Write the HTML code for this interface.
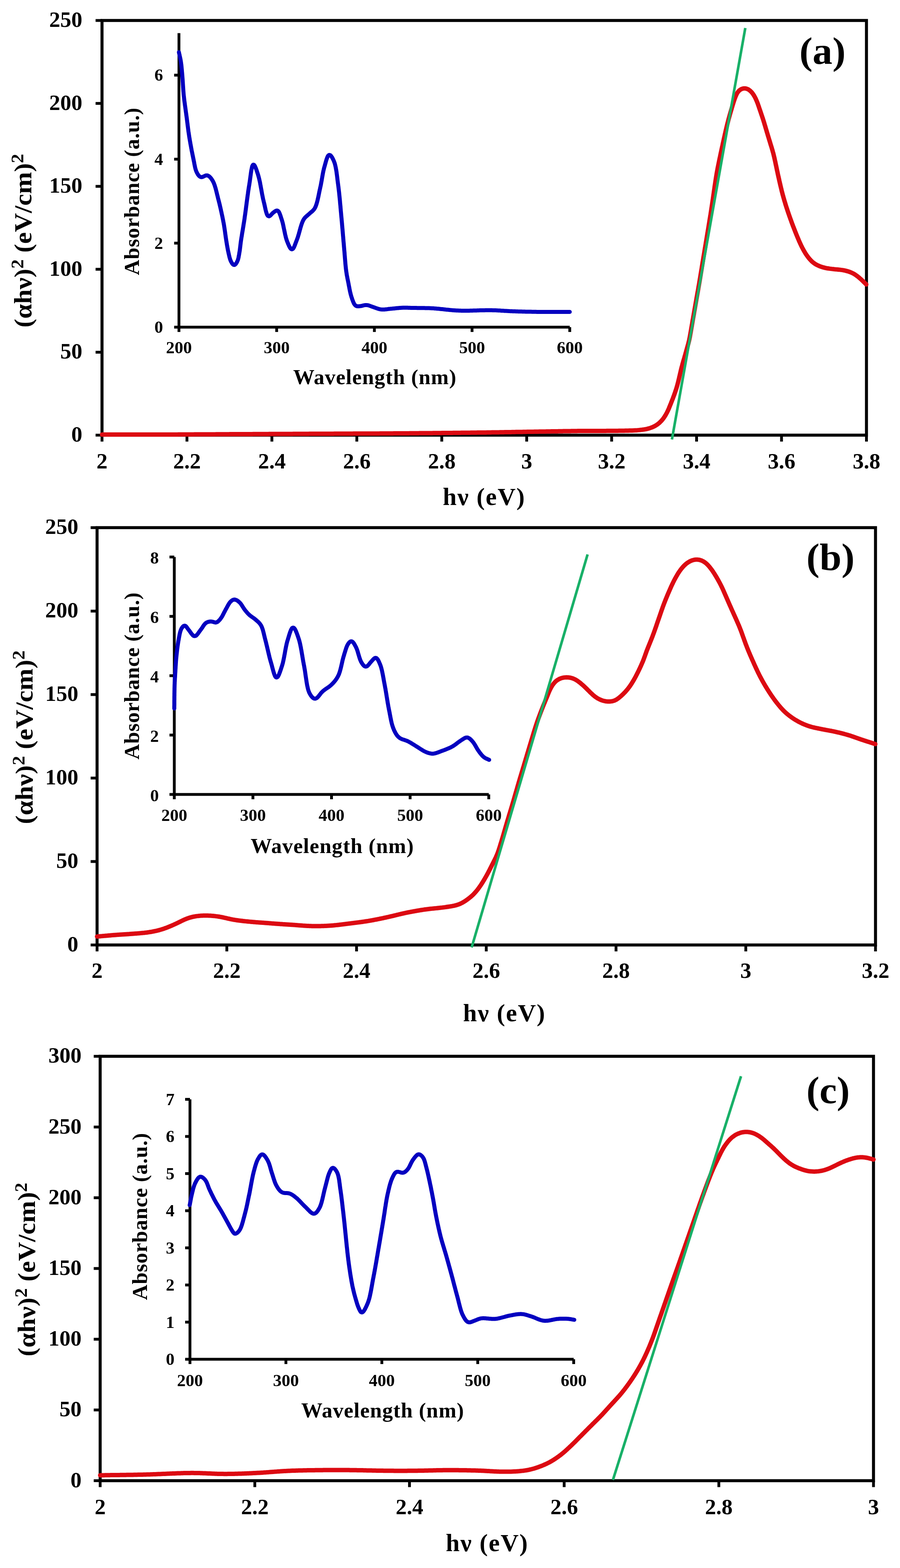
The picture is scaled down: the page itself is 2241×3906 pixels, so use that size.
<!DOCTYPE html>
<html><head><meta charset="utf-8"><title>Tauc plots</title>
<style>
html,body{margin:0;padding:0;background:#fff;}
body{width:2241px;height:3906px;overflow:hidden;}
svg{display:block;}
text{font-family:'Liberation Serif', serif;font-weight:bold;}
</style></head><body>
<svg width="2241" height="3906" viewBox="0 0 2241 3906" font-family="'Liberation Serif', serif" font-weight="bold" fill="#000">
<rect width="2241" height="3906" fill="#fff"/>
<rect x="254" y="51" width="1903.5" height="1033" fill="none" stroke="#000" stroke-width="7.5"/>
<line x1="238" y1="1084" x2="254" y2="1084" stroke="#000" stroke-width="7" stroke-linecap="butt"/>
<text x="205" y="1100" font-size="55" text-anchor="end">0</text>
<line x1="238" y1="877.4" x2="254" y2="877.4" stroke="#000" stroke-width="7" stroke-linecap="butt"/>
<text x="205" y="893.4" font-size="55" text-anchor="end">50</text>
<line x1="238" y1="670.8" x2="254" y2="670.8" stroke="#000" stroke-width="7" stroke-linecap="butt"/>
<text x="205" y="686.8" font-size="55" text-anchor="end">100</text>
<line x1="238" y1="464.2" x2="254" y2="464.2" stroke="#000" stroke-width="7" stroke-linecap="butt"/>
<text x="205" y="480.2" font-size="55" text-anchor="end">150</text>
<line x1="238" y1="257.6" x2="254" y2="257.6" stroke="#000" stroke-width="7" stroke-linecap="butt"/>
<text x="205" y="273.6" font-size="55" text-anchor="end">200</text>
<line x1="238" y1="51" x2="254" y2="51" stroke="#000" stroke-width="7" stroke-linecap="butt"/>
<text x="205" y="67" font-size="55" text-anchor="end">250</text>
<line x1="254" y1="1084" x2="254" y2="1100" stroke="#000" stroke-width="7" stroke-linecap="butt"/>
<text x="254" y="1167" font-size="55" text-anchor="middle">2</text>
<line x1="465.5" y1="1084" x2="465.5" y2="1100" stroke="#000" stroke-width="7" stroke-linecap="butt"/>
<text x="465.5" y="1167" font-size="55" text-anchor="middle">2.2</text>
<line x1="677" y1="1084" x2="677" y2="1100" stroke="#000" stroke-width="7" stroke-linecap="butt"/>
<text x="677" y="1167" font-size="55" text-anchor="middle">2.4</text>
<line x1="888.5" y1="1084" x2="888.5" y2="1100" stroke="#000" stroke-width="7" stroke-linecap="butt"/>
<text x="888.5" y="1167" font-size="55" text-anchor="middle">2.6</text>
<line x1="1100" y1="1084" x2="1100" y2="1100" stroke="#000" stroke-width="7" stroke-linecap="butt"/>
<text x="1100" y="1167" font-size="55" text-anchor="middle">2.8</text>
<line x1="1311.5" y1="1084" x2="1311.5" y2="1100" stroke="#000" stroke-width="7" stroke-linecap="butt"/>
<text x="1311.5" y="1167" font-size="55" text-anchor="middle">3</text>
<line x1="1523" y1="1084" x2="1523" y2="1100" stroke="#000" stroke-width="7" stroke-linecap="butt"/>
<text x="1523" y="1167" font-size="55" text-anchor="middle">3.2</text>
<line x1="1734.5" y1="1084" x2="1734.5" y2="1100" stroke="#000" stroke-width="7" stroke-linecap="butt"/>
<text x="1734.5" y="1167" font-size="55" text-anchor="middle">3.4</text>
<line x1="1946" y1="1084" x2="1946" y2="1100" stroke="#000" stroke-width="7" stroke-linecap="butt"/>
<text x="1946" y="1167" font-size="55" text-anchor="middle">3.6</text>
<line x1="2157.5" y1="1084" x2="2157.5" y2="1100" stroke="#000" stroke-width="7" stroke-linecap="butt"/>
<text x="2157.5" y="1167" font-size="55" text-anchor="middle">3.8</text>
<text x="1204.5" y="1258" font-size="62" text-anchor="middle" textLength="204" lengthAdjust="spacing">h&#957; (eV)</text>
<text transform="translate(78,599.5) rotate(-90)" x="0" y="0" font-size="62" text-anchor="middle" textLength="433" lengthAdjust="spacingAndGlyphs">(&#945;h&#957;)<tspan font-size="44" dy="-20">2</tspan><tspan dy="20" font-size="62"> (eV/cm)</tspan><tspan font-size="44" dy="-20">2</tspan></text>
<text x="2048" y="159" font-size="96" text-anchor="middle" textLength="115" lengthAdjust="spacingAndGlyphs">(a)</text>
<path d="M445.6,82.6 L445.6,815 L1418.7,815" fill="none" stroke="#000" stroke-width="7" stroke-linejoin="miter"/>
<line x1="433.6" y1="815" x2="445.6" y2="815" stroke="#000" stroke-width="7" stroke-linecap="butt"/>
<text x="406" y="829" font-size="43" text-anchor="end">0</text>
<line x1="433.6" y1="605.7" x2="445.6" y2="605.7" stroke="#000" stroke-width="7" stroke-linecap="butt"/>
<text x="406" y="619.7" font-size="43" text-anchor="end">2</text>
<line x1="433.6" y1="396.5" x2="445.6" y2="396.5" stroke="#000" stroke-width="7" stroke-linecap="butt"/>
<text x="406" y="410.5" font-size="43" text-anchor="end">4</text>
<line x1="433.6" y1="187.2" x2="445.6" y2="187.2" stroke="#000" stroke-width="7" stroke-linecap="butt"/>
<text x="406" y="201.2" font-size="43" text-anchor="end">6</text>
<line x1="445.6" y1="815" x2="445.6" y2="827" stroke="#000" stroke-width="7" stroke-linecap="butt"/>
<text x="445.6" y="880" font-size="43" text-anchor="middle">200</text>
<line x1="688.9" y1="815" x2="688.9" y2="827" stroke="#000" stroke-width="7" stroke-linecap="butt"/>
<text x="688.9" y="880" font-size="43" text-anchor="middle">300</text>
<line x1="932.2" y1="815" x2="932.2" y2="827" stroke="#000" stroke-width="7" stroke-linecap="butt"/>
<text x="932.2" y="880" font-size="43" text-anchor="middle">400</text>
<line x1="1175.4" y1="815" x2="1175.4" y2="827" stroke="#000" stroke-width="7" stroke-linecap="butt"/>
<text x="1175.4" y="880" font-size="43" text-anchor="middle">500</text>
<line x1="1418.7" y1="815" x2="1418.7" y2="827" stroke="#000" stroke-width="7" stroke-linecap="butt"/>
<text x="1418.7" y="880" font-size="43" text-anchor="middle">600</text>
<text x="933" y="957" font-size="53" text-anchor="middle" textLength="406" lengthAdjust="spacing">Wavelength (nm)</text>
<text transform="translate(346,477) rotate(-90)" x="0" y="0" font-size="53" text-anchor="middle" textLength="417" lengthAdjust="spacing">Absorbance (a.u.)</text>
<path d="M445.5,130 L445.9,132 L446.3,133.9 L446.8,135.9 L447.2,137.8 L447.6,139.8 L448.1,141.7 L448.5,143.7 L448.9,145.6 L449.3,147.6 L449.7,149.6 L450,151.5 L450.3,153.5 L450.7,155.5 L450.9,157.5 L451.2,159.5 L451.5,161.4 L451.7,163.4 L451.9,165.4 L452.1,167.4 L452.3,169.4 L452.5,171.4 L452.7,173.4 L452.9,175.4 L453,177.4 L453.2,179.4 L453.4,181.4 L453.5,183.4 L453.7,185.4 L453.9,187.4 L454,189.3 L454.2,191.3 L454.3,193.3 L454.5,195.3 L454.6,197.3 L454.8,199.3 L454.9,201.3 L455,203.3 L455.2,205.3 L455.3,207.3 L455.4,209.3 L455.5,211.3 L455.7,213.3 L455.8,215.3 L455.9,217.3 L456.1,219.3 L456.2,221.3 L456.3,223.3 L456.5,225.3 L456.6,227.3 L456.8,229.3 L457,231.3 L457.1,233.3 L457.3,235.3 L457.5,237.2 L457.7,239.2 L458,241.2 L458.2,243.2 L458.4,245.2 L458.6,247.2 L458.9,249.2 L459.1,251.2 L459.4,253.2 L459.6,255.1 L459.9,257.1 L460.2,259.1 L460.4,261.1 L460.7,263.1 L461,265.1 L461.3,267 L461.5,269 L461.8,271 L462.1,273 L462.4,275 L462.6,276.9 L462.9,278.9 L463.2,280.9 L463.5,282.9 L463.7,284.9 L464,286.9 L464.3,288.8 L464.5,290.8 L464.8,292.8 L465.1,294.8 L465.3,296.8 L465.6,298.8 L465.8,300.8 L466.1,302.7 L466.3,304.7 L466.6,306.7 L466.8,308.7 L467.1,310.7 L467.3,312.7 L467.6,314.7 L467.8,316.6 L468.1,318.6 L468.3,320.6 L468.6,322.6 L468.9,324.6 L469.1,326.6 L469.4,328.5 L469.7,330.5 L470,332.5 L470.3,334.5 L470.6,336.5 L470.9,338.4 L471.2,340.4 L471.5,342.4 L471.8,344.4 L472.2,346.3 L472.5,348.3 L472.8,350.3 L473.2,352.3 L473.5,354.2 L473.9,356.2 L474.2,358.2 L474.6,360.1 L474.9,362.1 L475.3,364.1 L475.7,366 L476,368 L476.4,370 L476.8,372 L477.1,373.9 L477.5,375.9 L477.9,377.8 L478.3,379.8 L478.7,381.8 L479.1,383.7 L479.5,385.7 L479.9,387.7 L480.3,389.6 L480.7,391.6 L481.1,393.5 L481.5,395.5 L481.9,397.4 L482.3,399.4 L482.7,401.4 L483.1,403.3 L483.5,405.3 L483.8,407.3 L484.2,409.2 L484.6,411.2 L485,413.2 L485.4,415.1 L485.8,417.1 L486.3,419 L486.8,421 L487.4,422.9 L488,424.8 L488.7,426.6 L489.5,428.5 L490.4,430.3 L491.3,432 L492.3,433.8 L493.4,435.4 L494.6,437 L495.9,438.5 L497.4,439.8 L499.1,440.7 L500.9,441.2 L502.7,441.2 L504.6,440.7 L506.4,439.9 L508.2,439 L510,438.1 L511.8,437.4 L513.7,436.9 L515.6,436.9 L517.4,437.4 L519.2,438.2 L520.8,439.3 L522.3,440.6 L523.7,442.1 L525,443.6 L526.2,445.2 L527.3,446.8 L528.4,448.5 L529.5,450.2 L530.4,451.9 L531.3,453.7 L532.2,455.5 L532.9,457.4 L533.6,459.2 L534.3,461.1 L534.9,463 L535.5,464.9 L536.1,466.8 L536.7,468.8 L537.2,470.7 L537.7,472.6 L538.2,474.6 L538.7,476.5 L539.2,478.5 L539.7,480.4 L540.1,482.3 L540.6,484.3 L541.1,486.2 L541.6,488.2 L542.1,490.1 L542.5,492.1 L543,494 L543.5,495.9 L544,497.9 L544.5,499.8 L545,501.8 L545.5,503.7 L546,505.6 L546.5,507.6 L546.9,509.5 L547.4,511.5 L547.9,513.4 L548.3,515.4 L548.8,517.3 L549.2,519.3 L549.7,521.2 L550.1,523.2 L550.5,525.1 L551,527.1 L551.4,529 L551.8,531 L552.2,533 L552.7,534.9 L553.1,536.9 L553.5,538.8 L553.9,540.8 L554.3,542.7 L554.7,544.7 L555.1,546.7 L555.5,548.6 L555.8,550.6 L556.2,552.6 L556.6,554.5 L557,556.5 L557.3,558.5 L557.7,560.4 L558,562.4 L558.3,564.4 L558.6,566.4 L558.9,568.3 L559.2,570.3 L559.5,572.3 L559.8,574.3 L560.1,576.3 L560.4,578.2 L560.6,580.2 L560.9,582.2 L561.2,584.2 L561.5,586.2 L561.7,588.2 L562,590.1 L562.3,592.1 L562.6,594.1 L562.9,596.1 L563.2,598.1 L563.5,600 L563.8,602 L564.2,604 L564.5,606 L564.8,607.9 L565.1,609.9 L565.5,611.9 L565.8,613.9 L566.2,615.8 L566.5,617.8 L566.9,619.8 L567.3,621.7 L567.6,623.7 L568.1,625.7 L568.5,627.6 L568.9,629.6 L569.3,631.5 L569.8,633.5 L570.2,635.4 L570.7,637.4 L571.1,639.3 L571.6,641.3 L572.2,643.2 L572.7,645.1 L573.4,647 L574.1,648.9 L574.9,650.7 L575.8,652.5 L576.8,654.2 L577.8,655.9 L579,657.5 L580.3,658.9 L581.8,659.9 L583.4,660.1 L585,659.5 L586.4,658.3 L587.6,656.8 L588.7,655.1 L589.7,653.4 L590.6,651.6 L591.4,649.8 L592.2,647.9 L592.8,646 L593.3,644.1 L593.8,642.1 L594.2,640.2 L594.5,638.2 L594.9,636.2 L595.3,634.3 L595.6,632.3 L595.9,630.3 L596.3,628.3 L596.6,626.4 L596.9,624.4 L597.2,622.4 L597.4,620.4 L597.7,618.4 L597.9,616.5 L598.2,614.5 L598.4,612.5 L598.6,610.5 L598.9,608.5 L599.1,606.5 L599.4,604.5 L599.6,602.5 L599.9,600.6 L600.2,598.6 L600.5,596.6 L600.8,594.6 L601.1,592.7 L601.4,590.7 L601.8,588.7 L602.1,586.7 L602.4,584.7 L602.7,582.8 L603,580.8 L603.4,578.8 L603.7,576.9 L604,574.9 L604.4,572.9 L604.7,570.9 L605,569 L605.3,567 L605.7,565 L606,563 L606.3,561.1 L606.6,559.1 L606.9,557.1 L607.3,555.1 L607.6,553.1 L607.9,551.2 L608.2,549.2 L608.5,547.2 L608.8,545.2 L609.1,543.3 L609.3,541.3 L609.6,539.3 L609.9,537.3 L610.2,535.3 L610.5,533.3 L610.7,531.4 L611,529.4 L611.3,527.4 L611.5,525.4 L611.8,523.4 L612.1,521.4 L612.3,519.5 L612.6,517.5 L612.8,515.5 L613.1,513.5 L613.4,511.5 L613.6,509.5 L613.9,507.6 L614.1,505.6 L614.4,503.6 L614.7,501.6 L614.9,499.6 L615.2,497.6 L615.5,495.6 L615.7,493.7 L616,491.7 L616.3,489.7 L616.5,487.7 L616.8,485.7 L617.1,483.7 L617.4,481.8 L617.6,479.8 L617.9,477.8 L618.2,475.8 L618.5,473.8 L618.8,471.9 L619.1,469.9 L619.4,467.9 L619.7,465.9 L620,464 L620.4,462 L620.7,460 L621,458 L621.3,456 L621.6,454.1 L621.9,452.1 L622.2,450.1 L622.5,448.1 L622.7,446.1 L623,444.2 L623.3,442.2 L623.5,440.2 L623.8,438.2 L624.1,436.2 L624.4,434.2 L624.6,432.3 L624.9,430.3 L625.2,428.3 L625.5,426.3 L625.8,424.4 L626.2,422.4 L626.6,420.4 L627,418.5 L627.4,416.5 L627.9,414.6 L628.6,412.7 L629.5,411.2 L630.6,410.3 L632,410.4 L633.2,411.4 L634.3,412.9 L635.2,414.7 L636,416.5 L636.8,418.4 L637.5,420.2 L638.2,422.1 L638.8,424 L639.5,425.9 L640.1,427.8 L640.7,429.7 L641.3,431.6 L642,433.5 L642.6,435.4 L643.1,437.3 L643.7,439.3 L644.2,441.2 L644.7,443.1 L645.2,445.1 L645.7,447 L646.1,449 L646.6,450.9 L647,452.9 L647.4,454.8 L647.8,456.8 L648.1,458.8 L648.5,460.7 L648.9,462.7 L649.2,464.7 L649.6,466.6 L649.9,468.6 L650.3,470.6 L650.7,472.6 L651,474.5 L651.4,476.5 L651.7,478.5 L652.1,480.4 L652.4,482.4 L652.8,484.4 L653.2,486.3 L653.6,488.3 L654,490.3 L654.4,492.2 L654.8,494.2 L655.2,496.1 L655.7,498.1 L656.2,500 L656.6,502 L657.1,503.9 L657.6,505.9 L658,507.8 L658.5,509.8 L658.9,511.7 L659.4,513.7 L659.8,515.6 L660.2,517.6 L660.6,519.5 L661.1,521.5 L661.5,523.4 L662,525.4 L662.5,527.3 L663.1,529.2 L663.7,531.1 L664.3,533 L665.1,534.9 L666.1,536.5 L667.3,537.9 L668.8,538.7 L670.4,538.7 L672,537.9 L673.5,536.7 L674.9,535.3 L676.2,533.8 L677.6,532.3 L679,530.9 L680.5,529.6 L682,528.4 L683.6,527.2 L685.3,526.1 L687,525.1 L688.8,524.6 L690.5,524.6 L692.1,525.3 L693.5,526.6 L694.6,528.2 L695.5,530 L696.3,531.8 L697,533.7 L697.7,535.6 L698.4,537.4 L699,539.3 L699.6,541.3 L700.2,543.2 L700.8,545.1 L701.5,547 L702.1,548.9 L702.6,550.8 L703.2,552.7 L703.7,554.6 L704.2,556.6 L704.6,558.5 L705.1,560.5 L705.5,562.4 L705.9,564.4 L706.3,566.4 L706.7,568.3 L707.1,570.3 L707.6,572.2 L708,574.2 L708.4,576.2 L708.8,578.1 L709.2,580.1 L709.6,582 L710,584 L710.5,585.9 L711,587.9 L711.4,589.8 L711.9,591.8 L712.5,593.7 L713,595.6 L713.6,597.5 L714.3,599.4 L715,601.3 L715.7,603.1 L716.5,605 L717.2,606.9 L718,608.7 L718.8,610.5 L719.6,612.4 L720.5,614.2 L721.4,615.9 L722.4,617.6 L723.6,619.2 L725,620.4 L726.5,621 L728.1,620.8 L729.5,619.8 L730.6,618.3 L731.6,616.6 L732.5,614.8 L733.3,612.9 L734,611.1 L734.7,609.2 L735.5,607.3 L736.1,605.4 L736.8,603.6 L737.6,601.7 L738.3,599.8 L739,598 L739.7,596.1 L740.4,594.2 L741.1,592.3 L741.7,590.4 L742.3,588.5 L742.8,586.6 L743.4,584.7 L744,582.8 L744.5,580.8 L745,578.9 L745.6,577 L746.1,575 L746.6,573.1 L747.2,571.2 L747.7,569.2 L748.2,567.3 L748.8,565.4 L749.4,563.5 L750,561.6 L750.6,559.7 L751.2,557.8 L751.9,555.9 L752.6,554 L753.4,552.2 L754.2,550.3 L755.1,548.6 L756.1,546.8 L757.1,545.2 L758.3,543.6 L759.6,542 L761,540.6 L762.5,539.2 L764,537.9 L765.5,536.6 L767,535.3 L768.5,534 L770,532.7 L771.5,531.3 L773,530 L774.6,528.7 L776.1,527.5 L777.6,526.1 L779.1,524.8 L780.4,523.3 L781.7,521.8 L782.9,520.2 L783.9,518.5 L784.8,516.7 L785.7,514.9 L786.4,513 L787.1,511.2 L787.8,509.3 L788.4,507.4 L788.9,505.4 L789.5,503.5 L790,501.6 L790.5,499.6 L790.9,497.7 L791.4,495.7 L791.8,493.8 L792.3,491.8 L792.7,489.9 L793.1,487.9 L793.5,486 L793.9,484 L794.3,482 L794.7,480.1 L795.1,478.1 L795.5,476.2 L795.9,474.2 L796.3,472.2 L796.8,470.3 L797.2,468.3 L797.6,466.4 L798.1,464.4 L798.5,462.5 L798.9,460.5 L799.3,458.5 L799.6,456.6 L800,454.6 L800.4,452.6 L800.7,450.7 L801.1,448.7 L801.4,446.7 L801.7,444.7 L802.1,442.8 L802.4,440.8 L802.8,438.8 L803.1,436.9 L803.5,434.9 L803.8,432.9 L804.2,431 L804.6,429 L805,427 L805.4,425.1 L805.9,423.1 L806.3,421.2 L806.8,419.2 L807.3,417.3 L807.9,415.4 L808.4,413.5 L809,411.5 L809.5,409.6 L810,407.7 L810.6,405.7 L811.1,403.8 L811.6,401.9 L812.2,400 L812.8,398 L813.4,396.1 L814.1,394.3 L814.8,392.4 L815.5,390.6 L816.5,388.8 L817.6,387.3 L818.9,386.2 L820.5,385.9 L822.1,386.4 L823.6,387.6 L824.8,389.1 L826,390.7 L827,392.4 L828,394.1 L828.9,395.9 L829.8,397.7 L830.6,399.5 L831.4,401.4 L832.1,403.2 L832.8,405.1 L833.5,407 L834,408.9 L834.5,410.9 L835,412.8 L835.4,414.8 L835.9,416.7 L836.2,418.7 L836.6,420.7 L836.9,422.6 L837.3,424.6 L837.6,426.6 L837.9,428.6 L838.2,430.5 L838.4,432.5 L838.7,434.5 L839,436.5 L839.2,438.5 L839.5,440.5 L839.7,442.4 L840,444.4 L840.2,446.4 L840.4,448.4 L840.7,450.4 L840.9,452.4 L841.2,454.4 L841.4,456.3 L841.7,458.3 L842,460.3 L842.2,462.3 L842.5,464.3 L842.7,466.3 L843,468.3 L843.2,470.2 L843.5,472.2 L843.7,474.2 L843.9,476.2 L844.2,478.2 L844.4,480.2 L844.6,482.2 L844.8,484.2 L845,486.2 L845.2,488.1 L845.4,490.1 L845.6,492.1 L845.8,494.1 L846,496.1 L846.2,498.1 L846.4,500.1 L846.6,502.1 L846.7,504.1 L846.9,506.1 L847.1,508.1 L847.3,510.1 L847.5,512.1 L847.7,514 L847.8,516 L848,518 L848.2,520 L848.4,522 L848.5,524 L848.7,526 L848.9,528 L849.1,530 L849.3,532 L849.4,534 L849.6,536 L849.8,538 L850,540 L850.2,542 L850.4,543.9 L850.6,545.9 L850.7,547.9 L850.9,549.9 L851.1,551.9 L851.3,553.9 L851.5,555.9 L851.6,557.9 L851.8,559.9 L852,561.9 L852.2,563.9 L852.3,565.9 L852.5,567.9 L852.7,569.9 L852.9,571.9 L853,573.8 L853.2,575.8 L853.4,577.8 L853.5,579.8 L853.7,581.8 L853.9,583.8 L854,585.8 L854.2,587.8 L854.4,589.8 L854.6,591.8 L854.7,593.8 L854.9,595.8 L855.1,597.8 L855.2,599.8 L855.4,601.8 L855.6,603.8 L855.8,605.8 L855.9,607.7 L856.1,609.7 L856.3,611.7 L856.4,613.7 L856.6,615.7 L856.8,617.7 L857,619.7 L857.1,621.7 L857.3,623.7 L857.5,625.7 L857.7,627.7 L857.8,629.7 L858,631.7 L858.1,633.7 L858.3,635.7 L858.5,637.7 L858.6,639.7 L858.8,641.7 L858.9,643.6 L859.1,645.6 L859.3,647.6 L859.4,649.6 L859.6,651.6 L859.8,653.6 L859.9,655.6 L860.1,657.6 L860.3,659.6 L860.5,661.6 L860.7,663.6 L860.9,665.6 L861.1,667.6 L861.3,669.6 L861.6,671.5 L861.8,673.5 L862.1,675.5 L862.4,677.5 L862.7,679.5 L863,681.4 L863.3,683.4 L863.6,685.4 L864,687.4 L864.4,689.3 L864.7,691.3 L865.1,693.3 L865.5,695.2 L865.9,697.2 L866.3,699.1 L866.7,701.1 L867.1,703.1 L867.5,705 L867.9,707 L868.2,709 L868.6,710.9 L869,712.9 L869.4,714.9 L869.7,716.8 L870.1,718.8 L870.5,720.8 L870.9,722.7 L871.3,724.7 L871.7,726.6 L872.2,728.6 L872.6,730.5 L873.1,732.5 L873.6,734.4 L874.2,736.3 L874.7,738.3 L875.3,740.2 L876,742.1 L876.6,744 L877.2,745.9 L877.9,747.7 L878.6,749.6 L879.3,751.5 L880.1,753.3 L880.9,755.2 L881.8,756.9 L882.9,758.6 L884.2,760.1 L885.6,761.4 L887.3,762.3 L889.2,762.8 L891.1,763 L893.1,763 L895.1,762.8 L897.1,762.6 L899.1,762.3 L901,761.8 L902.9,761.3 L904.9,760.8 L906.8,760.4 L908.8,760.1 L910.8,759.9 L912.8,759.9 L914.7,760.1 L916.7,760.5 L918.6,761.1 L920.5,761.7 L922.4,762.4 L924.2,763.1 L926.1,763.8 L928,764.5 L929.9,765.1 L931.8,765.8 L933.7,766.4 L935.6,767.1 L937.4,767.8 L939.3,768.4 L941.2,769.1 L943.2,769.6 L945.1,770.1 L947,770.5 L949,770.8 L951,771 L953,771.1 L955,771.1 L957,771 L959,770.8 L961,770.6 L963,770.4 L964.9,770.1 L966.9,769.8 L968.9,769.6 L970.9,769.4 L972.9,769.1 L974.9,768.9 L976.9,768.8 L978.9,768.6 L980.9,768.4 L982.9,768.2 L984.8,768 L986.8,767.8 L988.8,767.6 L990.8,767.5 L992.8,767.3 L994.8,767.1 L996.8,767 L998.8,766.8 L1000.8,766.7 L1002.8,766.6 L1004.8,766.5 L1006.8,766.5 L1008.8,766.5 L1010.8,766.5 L1012.8,766.5 L1014.8,766.6 L1016.8,766.7 L1018.8,766.8 L1020.8,766.8 L1022.8,766.9 L1024.8,767 L1026.8,767 L1028.8,767 L1030.8,767.1 L1032.8,767.1 L1034.8,767.1 L1036.8,767.1 L1038.8,767.2 L1040.8,767.2 L1042.8,767.2 L1044.8,767.2 L1046.8,767.2 L1048.8,767.2 L1050.8,767.2 L1052.8,767.3 L1054.8,767.3 L1056.8,767.3 L1058.8,767.4 L1060.8,767.4 L1062.8,767.4 L1064.8,767.5 L1066.8,767.6 L1068.8,767.6 L1070.8,767.7 L1072.8,767.8 L1074.8,767.9 L1076.8,768 L1078.8,768.1 L1080.8,768.2 L1082.8,768.4 L1084.8,768.5 L1086.8,768.7 L1088.8,768.9 L1090.8,769.1 L1092.8,769.3 L1094.8,769.5 L1096.8,769.7 L1098.8,769.9 L1100.8,770.1 L1102.7,770.3 L1104.7,770.5 L1106.7,770.7 L1108.7,770.9 L1110.7,771.2 L1112.7,771.4 L1114.7,771.6 L1116.7,771.8 L1118.7,772 L1120.7,772.2 L1122.6,772.4 L1124.6,772.6 L1126.6,772.7 L1128.6,772.9 L1130.6,773 L1132.6,773.2 L1134.6,773.3 L1136.6,773.4 L1138.6,773.5 L1140.6,773.6 L1142.6,773.7 L1144.6,773.8 L1146.6,773.8 L1148.6,773.9 L1150.6,773.9 L1152.6,774 L1154.6,774 L1156.6,774 L1158.6,774 L1160.6,774 L1162.6,774 L1164.6,773.9 L1166.6,773.9 L1168.6,773.9 L1170.6,773.8 L1172.6,773.8 L1174.6,773.7 L1176.6,773.7 L1178.6,773.6 L1180.6,773.6 L1182.6,773.5 L1184.6,773.4 L1186.6,773.4 L1188.6,773.3 L1190.6,773.3 L1192.6,773.2 L1194.6,773.1 L1196.6,773.1 L1198.6,773 L1200.6,773 L1202.6,772.9 L1204.6,772.9 L1206.6,772.9 L1208.6,772.8 L1210.6,772.8 L1212.6,772.8 L1214.6,772.8 L1216.6,772.8 L1218.6,772.8 L1220.6,772.8 L1222.6,772.8 L1224.7,772.8 L1226.7,772.9 L1228.7,772.9 L1230.7,773 L1232.7,773.1 L1234.7,773.1 L1236.7,773.2 L1238.7,773.3 L1240.7,773.4 L1242.6,773.5 L1244.6,773.6 L1246.6,773.7 L1248.6,773.9 L1250.6,774 L1252.6,774.1 L1254.6,774.2 L1256.6,774.4 L1258.6,774.5 L1260.6,774.6 L1262.6,774.7 L1264.6,774.8 L1266.6,774.9 L1268.6,775.1 L1270.6,775.2 L1272.6,775.2 L1274.6,775.3 L1276.6,775.4 L1278.6,775.5 L1280.6,775.6 L1282.6,775.6 L1284.6,775.7 L1286.6,775.8 L1288.6,775.8 L1290.6,775.9 L1292.6,775.9 L1294.6,776 L1296.6,776.1 L1298.6,776.1 L1300.6,776.2 L1302.6,776.2 L1304.6,776.3 L1306.6,776.3 L1308.6,776.4 L1310.6,776.4 L1312.6,776.4 L1314.6,776.5 L1316.6,776.5 L1318.6,776.6 L1320.6,776.6 L1322.6,776.6 L1324.6,776.7 L1326.6,776.7 L1328.6,776.7 L1330.6,776.8 L1332.6,776.8 L1334.6,776.8 L1336.6,776.9 L1338.6,776.9 L1340.6,776.9 L1342.6,776.9 L1344.6,777 L1346.6,777 L1348.7,777 L1350.7,777 L1352.7,777.1 L1354.7,777.1 L1356.7,777.1 L1358.7,777.1 L1360.7,777.1 L1362.7,777.1 L1364.7,777.1 L1366.7,777.1 L1368.7,777.1 L1370.7,777.1 L1372.7,777.1 L1374.7,777.1 L1376.7,777.1 L1378.7,777.1 L1380.7,777.1 L1382.7,777.1 L1384.7,777.1 L1386.7,777.1 L1388.7,777.1 L1390.7,777.1 L1392.7,777.1 L1394.7,777.1 L1396.7,777.1 L1398.7,777 L1400.7,777 L1402.7,777 L1404.7,777 L1406.7,777 L1408.7,777 L1410.7,777 L1412.7,777 L1414.7,777 L1416.7,777 L1418.7,777" fill="none" stroke="#0400c0" stroke-width="10" stroke-linecap="round" stroke-linejoin="round"/>
<path d="M254,1082.5 L256,1082.5 L258,1082.5 L260,1082.5 L262,1082.5 L264,1082.5 L266,1082.5 L268,1082.5 L270,1082.5 L272,1082.5 L274,1082.5 L276,1082.5 L278,1082.5 L280,1082.5 L282,1082.5 L284,1082.5 L286,1082.5 L288,1082.5 L290,1082.5 L292,1082.5 L294,1082.5 L296,1082.5 L298,1082.5 L300,1082.5 L302,1082.5 L304,1082.5 L306,1082.5 L308,1082.5 L310,1082.5 L312,1082.5 L314,1082.5 L316,1082.5 L318,1082.5 L320,1082.5 L322,1082.5 L324,1082.5 L326,1082.5 L328,1082.6 L330,1082.6 L332,1082.6 L334,1082.6 L336,1082.6 L338,1082.6 L340,1082.6 L342,1082.6 L344,1082.6 L346,1082.6 L348,1082.6 L350,1082.6 L352,1082.6 L354.1,1082.6 L356.1,1082.6 L358.1,1082.6 L360.1,1082.6 L362.1,1082.6 L364.1,1082.6 L366.1,1082.6 L368.1,1082.6 L370.1,1082.5 L372.1,1082.5 L374.1,1082.5 L376.1,1082.5 L378.1,1082.5 L380.1,1082.5 L382.1,1082.5 L384.1,1082.5 L386.1,1082.5 L388.1,1082.5 L390.1,1082.5 L392.1,1082.5 L394.1,1082.5 L396.1,1082.5 L398.1,1082.5 L400.1,1082.5 L402.1,1082.5 L404.1,1082.5 L406.1,1082.5 L408.1,1082.5 L410.1,1082.5 L412.1,1082.5 L414.1,1082.5 L416.1,1082.5 L418.1,1082.4 L420.1,1082.4 L422.1,1082.4 L424.1,1082.4 L426.1,1082.4 L428.1,1082.4 L430.1,1082.4 L432.1,1082.4 L434.1,1082.4 L436.1,1082.4 L438.1,1082.4 L440.1,1082.4 L442.1,1082.4 L444.1,1082.3 L446.1,1082.3 L448.1,1082.3 L450.1,1082.3 L452.1,1082.3 L454.1,1082.3 L456.1,1082.3 L458.1,1082.3 L460.1,1082.3 L462.1,1082.3 L464.1,1082.2 L466.1,1082.2 L468.1,1082.2 L470.1,1082.2 L472.1,1082.2 L474.1,1082.2 L476.1,1082.2 L478.1,1082.2 L480.1,1082.2 L482.1,1082.2 L484.1,1082.1 L486.1,1082.1 L488.1,1082.1 L490.1,1082.1 L492.1,1082.1 L494.1,1082.1 L496.1,1082.1 L498.1,1082.1 L500.1,1082.1 L502.1,1082 L504.1,1082 L506.1,1082 L508.1,1082 L510.1,1082 L512.1,1082 L514.1,1082 L516.1,1082 L518.1,1082 L520.1,1081.9 L522.1,1081.9 L524.1,1081.9 L526.1,1081.9 L528.1,1081.9 L530.1,1081.9 L532.1,1081.9 L534.1,1081.9 L536.1,1081.9 L538.1,1081.8 L540.1,1081.8 L542.1,1081.8 L544.1,1081.8 L546.1,1081.8 L548.1,1081.8 L550.1,1081.8 L552.1,1081.8 L554.1,1081.7 L556.1,1081.7 L558.2,1081.7 L560.2,1081.7 L562.2,1081.7 L564.2,1081.7 L566.2,1081.7 L568.2,1081.7 L570.2,1081.7 L572.2,1081.6 L574.2,1081.6 L576.2,1081.6 L578.2,1081.6 L580.2,1081.6 L582.2,1081.6 L584.2,1081.6 L586.2,1081.6 L588.2,1081.6 L590.2,1081.6 L592.2,1081.5 L594.2,1081.5 L596.2,1081.5 L598.2,1081.5 L600.2,1081.5 L602.2,1081.5 L604.2,1081.5 L606.2,1081.5 L608.2,1081.5 L610.2,1081.4 L612.2,1081.4 L614.2,1081.4 L616.2,1081.4 L618.2,1081.4 L620.2,1081.4 L622.2,1081.4 L624.2,1081.4 L626.2,1081.4 L628.2,1081.4 L630.2,1081.3 L632.2,1081.3 L634.2,1081.3 L636.2,1081.3 L638.2,1081.3 L640.2,1081.3 L642.2,1081.3 L644.2,1081.3 L646.2,1081.3 L648.2,1081.3 L650.2,1081.2 L652.2,1081.2 L654.2,1081.2 L656.2,1081.2 L658.2,1081.2 L660.2,1081.2 L662.2,1081.2 L664.2,1081.2 L666.2,1081.2 L668.2,1081.2 L670.2,1081.1 L672.2,1081.1 L674.2,1081.1 L676.2,1081.1 L678.2,1081.1 L680.2,1081.1 L682.2,1081.1 L684.2,1081.1 L686.2,1081.1 L688.2,1081.1 L690.2,1081 L692.2,1081 L694.2,1081 L696.2,1081 L698.2,1081 L700.2,1081 L702.2,1081 L704.2,1081 L706.2,1081 L708.2,1081 L710.2,1080.9 L712.2,1080.9 L714.2,1080.9 L716.2,1080.9 L718.2,1080.9 L720.2,1080.9 L722.2,1080.9 L724.2,1080.9 L726.2,1080.9 L728.2,1080.9 L730.2,1080.8 L732.2,1080.8 L734.2,1080.8 L736.2,1080.8 L738.2,1080.8 L740.2,1080.8 L742.2,1080.8 L744.2,1080.8 L746.2,1080.8 L748.2,1080.8 L750.2,1080.7 L752.2,1080.7 L754.2,1080.7 L756.2,1080.7 L758.2,1080.7 L760.2,1080.7 L762.3,1080.7 L764.3,1080.7 L766.3,1080.7 L768.3,1080.7 L770.3,1080.6 L772.3,1080.6 L774.3,1080.6 L776.3,1080.6 L778.3,1080.6 L780.3,1080.6 L782.3,1080.6 L784.3,1080.6 L786.3,1080.6 L788.3,1080.6 L790.3,1080.5 L792.3,1080.5 L794.3,1080.5 L796.3,1080.5 L798.3,1080.5 L800.3,1080.5 L802.3,1080.5 L804.3,1080.5 L806.3,1080.5 L808.3,1080.5 L810.3,1080.5 L812.3,1080.4 L814.3,1080.4 L816.3,1080.4 L818.3,1080.4 L820.3,1080.4 L822.3,1080.4 L824.3,1080.4 L826.3,1080.4 L828.3,1080.4 L830.3,1080.4 L832.3,1080.3 L834.3,1080.3 L836.3,1080.3 L838.3,1080.3 L840.3,1080.3 L842.3,1080.3 L844.3,1080.3 L846.3,1080.3 L848.3,1080.3 L850.3,1080.3 L852.3,1080.3 L854.3,1080.3 L856.3,1080.2 L858.3,1080.2 L860.3,1080.2 L862.3,1080.2 L864.3,1080.2 L866.3,1080.2 L868.3,1080.2 L870.3,1080.2 L872.3,1080.2 L874.3,1080.2 L876.3,1080.2 L878.3,1080.2 L880.3,1080.1 L882.3,1080.1 L884.3,1080.1 L886.3,1080.1 L888.3,1080.1 L890.3,1080.1 L892.3,1080.1 L894.3,1080.1 L896.3,1080.1 L898.3,1080.1 L900.3,1080.1 L902.3,1080.1 L904.3,1080 L906.3,1080 L908.3,1080 L910.3,1080 L912.3,1080 L914.3,1080 L916.3,1080 L918.3,1080 L920.3,1080 L922.3,1080 L924.3,1080 L926.3,1079.9 L928.3,1079.9 L930.3,1079.9 L932.3,1079.9 L934.3,1079.9 L936.3,1079.9 L938.3,1079.9 L940.3,1079.9 L942.3,1079.9 L944.3,1079.9 L946.3,1079.8 L948.3,1079.8 L950.3,1079.8 L952.3,1079.8 L954.3,1079.8 L956.3,1079.8 L958.3,1079.8 L960.3,1079.8 L962.3,1079.7 L964.3,1079.7 L966.4,1079.7 L968.4,1079.7 L970.4,1079.7 L972.4,1079.7 L974.4,1079.7 L976.4,1079.7 L978.4,1079.7 L980.4,1079.6 L982.4,1079.6 L984.4,1079.6 L986.4,1079.6 L988.4,1079.6 L990.4,1079.6 L992.4,1079.6 L994.4,1079.5 L996.4,1079.5 L998.4,1079.5 L1000.4,1079.5 L1002.4,1079.5 L1004.4,1079.5 L1006.4,1079.5 L1008.4,1079.4 L1010.4,1079.4 L1012.4,1079.4 L1014.4,1079.4 L1016.4,1079.4 L1018.4,1079.4 L1020.4,1079.3 L1022.4,1079.3 L1024.4,1079.3 L1026.4,1079.3 L1028.4,1079.3 L1030.4,1079.3 L1032.4,1079.2 L1034.4,1079.2 L1036.4,1079.2 L1038.4,1079.2 L1040.4,1079.2 L1042.4,1079.2 L1044.4,1079.1 L1046.4,1079.1 L1048.4,1079.1 L1050.4,1079.1 L1052.4,1079.1 L1054.4,1079.1 L1056.4,1079 L1058.4,1079 L1060.4,1079 L1062.4,1079 L1064.4,1079 L1066.4,1079 L1068.4,1078.9 L1070.4,1078.9 L1072.4,1078.9 L1074.4,1078.9 L1076.4,1078.9 L1078.4,1078.8 L1080.4,1078.8 L1082.4,1078.8 L1084.4,1078.8 L1086.4,1078.8 L1088.4,1078.8 L1090.4,1078.7 L1092.4,1078.7 L1094.4,1078.7 L1096.4,1078.7 L1098.4,1078.7 L1100.4,1078.6 L1102.4,1078.6 L1104.4,1078.6 L1106.4,1078.6 L1108.4,1078.6 L1110.4,1078.5 L1112.4,1078.5 L1114.4,1078.5 L1116.4,1078.5 L1118.4,1078.5 L1120.4,1078.4 L1122.4,1078.4 L1124.4,1078.4 L1126.4,1078.4 L1128.4,1078.3 L1130.4,1078.3 L1132.4,1078.3 L1134.4,1078.3 L1136.4,1078.3 L1138.4,1078.2 L1140.4,1078.2 L1142.4,1078.2 L1144.4,1078.2 L1146.4,1078.2 L1148.4,1078.1 L1150.4,1078.1 L1152.4,1078.1 L1154.4,1078.1 L1156.4,1078 L1158.4,1078 L1160.4,1078 L1162.4,1078 L1164.4,1077.9 L1166.4,1077.9 L1168.4,1077.9 L1170.4,1077.9 L1172.4,1077.8 L1174.4,1077.8 L1176.4,1077.8 L1178.4,1077.8 L1180.4,1077.8 L1182.4,1077.7 L1184.5,1077.7 L1186.5,1077.7 L1188.5,1077.6 L1190.5,1077.6 L1192.5,1077.6 L1194.5,1077.6 L1196.5,1077.5 L1198.5,1077.5 L1200.5,1077.5 L1202.5,1077.5 L1204.5,1077.4 L1206.5,1077.4 L1208.5,1077.4 L1210.5,1077.4 L1212.5,1077.3 L1214.5,1077.3 L1216.5,1077.3 L1218.5,1077.2 L1220.5,1077.2 L1222.5,1077.2 L1224.5,1077.1 L1226.5,1077.1 L1228.5,1077.1 L1230.5,1077.1 L1232.5,1077 L1234.5,1077 L1236.5,1077 L1238.5,1076.9 L1240.5,1076.9 L1242.5,1076.9 L1244.5,1076.8 L1246.5,1076.8 L1248.5,1076.8 L1250.5,1076.7 L1252.5,1076.7 L1254.5,1076.7 L1256.5,1076.6 L1258.5,1076.6 L1260.5,1076.6 L1262.5,1076.5 L1264.5,1076.5 L1266.5,1076.5 L1268.5,1076.4 L1270.5,1076.4 L1272.5,1076.4 L1274.5,1076.3 L1276.5,1076.3 L1278.5,1076.2 L1280.5,1076.2 L1282.5,1076.2 L1284.5,1076.1 L1286.5,1076.1 L1288.5,1076.1 L1290.5,1076 L1292.5,1076 L1294.5,1076 L1296.5,1075.9 L1298.5,1075.9 L1300.5,1075.9 L1302.5,1075.8 L1304.5,1075.8 L1306.5,1075.7 L1308.5,1075.7 L1310.5,1075.7 L1312.5,1075.6 L1314.5,1075.6 L1316.5,1075.6 L1318.5,1075.5 L1320.5,1075.5 L1322.5,1075.5 L1324.5,1075.4 L1326.5,1075.4 L1328.5,1075.4 L1330.5,1075.3 L1332.5,1075.3 L1334.5,1075.3 L1336.5,1075.2 L1338.5,1075.2 L1340.5,1075.2 L1342.5,1075.1 L1344.5,1075.1 L1346.5,1075.1 L1348.5,1075 L1350.5,1075 L1352.5,1075 L1354.5,1074.9 L1356.5,1074.9 L1358.5,1074.9 L1360.5,1074.8 L1362.5,1074.8 L1364.5,1074.8 L1366.5,1074.7 L1368.5,1074.7 L1370.5,1074.7 L1372.5,1074.6 L1374.5,1074.6 L1376.5,1074.6 L1378.5,1074.5 L1380.5,1074.5 L1382.5,1074.5 L1384.5,1074.4 L1386.5,1074.4 L1388.5,1074.4 L1390.5,1074.3 L1392.5,1074.3 L1394.5,1074.3 L1396.5,1074.2 L1398.5,1074.2 L1400.5,1074.2 L1402.5,1074.1 L1404.5,1074.1 L1406.5,1074.1 L1408.5,1074 L1410.5,1074 L1412.5,1074 L1414.5,1074 L1416.5,1073.9 L1418.5,1073.9 L1420.5,1073.9 L1422.5,1073.8 L1424.5,1073.8 L1426.5,1073.8 L1428.5,1073.8 L1430.5,1073.7 L1432.5,1073.7 L1434.5,1073.7 L1436.5,1073.7 L1438.5,1073.6 L1440.5,1073.6 L1442.5,1073.6 L1444.5,1073.6 L1446.5,1073.5 L1448.5,1073.5 L1450.5,1073.5 L1452.6,1073.5 L1454.6,1073.5 L1456.6,1073.5 L1458.6,1073.4 L1460.6,1073.4 L1462.6,1073.4 L1464.6,1073.4 L1466.6,1073.4 L1468.6,1073.4 L1470.6,1073.4 L1472.6,1073.4 L1474.6,1073.4 L1476.6,1073.4 L1478.6,1073.4 L1480.6,1073.4 L1482.6,1073.4 L1484.6,1073.4 L1486.6,1073.4 L1488.6,1073.4 L1490.6,1073.4 L1492.6,1073.4 L1494.6,1073.4 L1496.6,1073.4 L1498.6,1073.4 L1500.6,1073.4 L1502.6,1073.4 L1504.6,1073.4 L1506.6,1073.4 L1508.6,1073.4 L1510.6,1073.3 L1512.6,1073.3 L1514.6,1073.3 L1516.6,1073.3 L1518.6,1073.3 L1520.6,1073.3 L1522.6,1073.3 L1524.6,1073.3 L1526.6,1073.3 L1528.6,1073.3 L1530.6,1073.2 L1532.6,1073.2 L1534.6,1073.2 L1536.6,1073.2 L1538.6,1073.2 L1540.6,1073.1 L1542.6,1073.1 L1544.6,1073.1 L1546.6,1073 L1548.6,1073 L1550.6,1072.9 L1552.6,1072.9 L1554.6,1072.9 L1556.6,1072.8 L1558.6,1072.8 L1560.6,1072.7 L1562.6,1072.7 L1564.6,1072.7 L1566.6,1072.6 L1568.6,1072.6 L1570.6,1072.5 L1572.6,1072.4 L1574.6,1072.4 L1576.6,1072.3 L1578.6,1072.2 L1580.6,1072.1 L1582.6,1072 L1584.6,1071.9 L1586.6,1071.8 L1588.6,1071.6 L1590.6,1071.4 L1592.6,1071.2 L1594.6,1071 L1596.5,1070.8 L1598.5,1070.6 L1600.5,1070.3 L1602.5,1070 L1604.5,1069.7 L1606.4,1069.3 L1608.4,1069 L1610.3,1068.6 L1612.3,1068.1 L1614.2,1067.6 L1616.1,1067.1 L1618.1,1066.5 L1619.9,1065.9 L1621.8,1065.2 L1623.7,1064.5 L1625.5,1063.7 L1627.3,1062.9 L1629.1,1062 L1630.9,1061.1 L1632.6,1060.1 L1634.3,1059 L1635.9,1057.9 L1637.5,1056.8 L1639.1,1055.6 L1640.7,1054.3 L1642.2,1053 L1643.6,1051.6 L1645,1050.2 L1646.4,1048.8 L1647.7,1047.3 L1649,1045.8 L1650.3,1044.3 L1651.5,1042.7 L1652.7,1041.1 L1653.8,1039.4 L1654.9,1037.8 L1656,1036.1 L1657,1034.4 L1658,1032.7 L1659,1030.9 L1659.9,1029.2 L1660.9,1027.4 L1661.8,1025.6 L1662.6,1023.8 L1663.5,1022 L1664.3,1020.2 L1665.1,1018.3 L1665.9,1016.5 L1666.6,1014.6 L1667.4,1012.8 L1668.1,1010.9 L1668.9,1009.1 L1669.6,1007.2 L1670.4,1005.4 L1671.1,1003.5 L1671.8,1001.6 L1672.6,999.8 L1673.3,997.9 L1674,996 L1674.8,994.2 L1675.5,992.3 L1676.2,990.4 L1676.9,988.6 L1677.6,986.7 L1678.3,984.8 L1679,982.9 L1679.6,981.1 L1680.3,979.2 L1681,977.3 L1681.6,975.4 L1682.2,973.5 L1682.9,971.6 L1683.5,969.7 L1684.1,967.8 L1684.7,965.9 L1685.3,963.9 L1685.8,962 L1686.4,960.1 L1686.9,958.2 L1687.4,956.2 L1687.9,954.3 L1688.4,952.4 L1688.9,950.4 L1689.4,948.5 L1689.8,946.5 L1690.3,944.6 L1690.8,942.6 L1691.2,940.7 L1691.7,938.7 L1692.1,936.8 L1692.6,934.8 L1693,932.9 L1693.5,930.9 L1693.9,929 L1694.4,927 L1694.8,925.1 L1695.3,923.2 L1695.8,921.2 L1696.2,919.3 L1696.7,917.3 L1697.2,915.4 L1697.7,913.5 L1698.3,911.5 L1698.8,909.6 L1699.3,907.7 L1699.8,905.7 L1700.4,903.8 L1700.9,901.9 L1701.5,900 L1702,898 L1702.6,896.1 L1703.2,894.2 L1703.7,892.3 L1704.3,890.4 L1704.8,888.4 L1705.4,886.5 L1705.9,884.6 L1706.5,882.7 L1707,880.7 L1707.5,878.8 L1708.1,876.9 L1708.6,874.9 L1709.1,873 L1709.7,871.1 L1710.2,869.2 L1710.8,867.2 L1711.3,865.3 L1711.8,863.4 L1712.4,861.5 L1712.9,859.5 L1713.4,857.6 L1714,855.7 L1714.5,853.7 L1714.9,851.8 L1715.4,849.8 L1715.9,847.9 L1716.3,845.9 L1716.7,844 L1717.1,842 L1717.5,840.1 L1717.9,838.1 L1718.2,836.1 L1718.6,834.2 L1718.9,832.2 L1719.3,830.2 L1719.6,828.3 L1720,826.3 L1720.3,824.3 L1720.7,822.3 L1721,820.4 L1721.3,818.4 L1721.7,816.4 L1722,814.4 L1722.4,812.5 L1722.7,810.5 L1723,808.5 L1723.4,806.6 L1723.7,804.6 L1724.1,802.6 L1724.4,800.6 L1724.7,798.7 L1725.1,796.7 L1725.4,794.7 L1725.8,792.8 L1726.1,790.8 L1726.5,788.8 L1726.8,786.8 L1727.2,784.9 L1727.5,782.9 L1727.9,780.9 L1728.2,779 L1728.5,777 L1728.9,775 L1729.2,773.1 L1729.6,771.1 L1729.9,769.1 L1730.3,767.1 L1730.6,765.2 L1731,763.2 L1731.3,761.2 L1731.6,759.3 L1732,757.3 L1732.3,755.3 L1732.7,753.3 L1733,751.4 L1733.4,749.4 L1733.7,747.4 L1734,745.5 L1734.4,743.5 L1734.7,741.5 L1735.1,739.5 L1735.4,737.6 L1735.8,735.6 L1736.1,733.6 L1736.5,731.7 L1736.8,729.7 L1737.2,727.7 L1737.5,725.7 L1737.9,723.8 L1738.2,721.8 L1738.6,719.8 L1738.9,717.9 L1739.2,715.9 L1739.6,713.9 L1739.9,712 L1740.3,710 L1740.6,708 L1741,706 L1741.3,704.1 L1741.6,702.1 L1742,700.1 L1742.3,698.1 L1742.6,696.2 L1743,694.2 L1743.3,692.2 L1743.6,690.3 L1743.9,688.3 L1744.3,686.3 L1744.6,684.3 L1744.9,682.4 L1745.2,680.4 L1745.6,678.4 L1745.9,676.4 L1746.2,674.5 L1746.5,672.5 L1746.9,670.5 L1747.2,668.5 L1747.5,666.6 L1747.8,664.6 L1748.1,662.6 L1748.5,660.6 L1748.8,658.7 L1749.1,656.7 L1749.4,654.7 L1749.8,652.7 L1750.1,650.8 L1750.4,648.8 L1750.7,646.8 L1751.1,644.8 L1751.4,642.9 L1751.7,640.9 L1752,638.9 L1752.4,636.9 L1752.7,635 L1753,633 L1753.4,631 L1753.7,629 L1754,627.1 L1754.3,625.1 L1754.7,623.1 L1755,621.1 L1755.3,619.2 L1755.7,617.2 L1756,615.2 L1756.3,613.2 L1756.6,611.3 L1757,609.3 L1757.3,607.3 L1757.6,605.4 L1757.9,603.4 L1758.3,601.4 L1758.6,599.4 L1758.9,597.5 L1759.2,595.5 L1759.6,593.5 L1759.9,591.5 L1760.2,589.6 L1760.5,587.6 L1760.9,585.6 L1761.2,583.6 L1761.5,581.7 L1761.9,579.7 L1762.2,577.7 L1762.5,575.7 L1762.8,573.8 L1763.2,571.8 L1763.5,569.8 L1763.8,567.8 L1764.1,565.9 L1764.5,563.9 L1764.8,561.9 L1765.1,559.9 L1765.4,558 L1765.7,556 L1766.1,554 L1766.4,552 L1766.7,550.1 L1767,548.1 L1767.3,546.1 L1767.7,544.1 L1768,542.2 L1768.3,540.2 L1768.6,538.2 L1768.9,536.2 L1769.3,534.3 L1769.6,532.3 L1769.9,530.3 L1770.2,528.3 L1770.5,526.4 L1770.8,524.4 L1771.1,522.4 L1771.4,520.4 L1771.7,518.4 L1772,516.5 L1772.3,514.5 L1772.6,512.5 L1772.9,510.5 L1773.2,508.6 L1773.5,506.6 L1773.8,504.6 L1774.1,502.6 L1774.4,500.6 L1774.7,498.7 L1775,496.7 L1775.3,494.7 L1775.5,492.7 L1775.8,490.7 L1776.1,488.8 L1776.4,486.8 L1776.7,484.8 L1777,482.8 L1777.3,480.8 L1777.5,478.9 L1777.8,476.9 L1778.1,474.9 L1778.4,472.9 L1778.7,470.9 L1779,468.9 L1779.2,467 L1779.5,465 L1779.8,463 L1780.1,461 L1780.4,459 L1780.7,457.1 L1781,455.1 L1781.3,453.1 L1781.6,451.1 L1781.9,449.2 L1782.2,447.2 L1782.5,445.2 L1782.8,443.2 L1783.1,441.2 L1783.4,439.3 L1783.8,437.3 L1784.1,435.3 L1784.4,433.4 L1784.8,431.4 L1785.1,429.4 L1785.5,427.4 L1785.8,425.5 L1786.2,423.5 L1786.6,421.5 L1786.9,419.6 L1787.3,417.6 L1787.7,415.6 L1788.1,413.7 L1788.5,411.7 L1788.9,409.8 L1789.3,407.8 L1789.7,405.8 L1790.1,403.9 L1790.5,401.9 L1790.9,400 L1791.3,398 L1791.7,396 L1792.1,394.1 L1792.5,392.1 L1793,390.2 L1793.4,388.2 L1793.8,386.2 L1794.2,384.3 L1794.6,382.3 L1795,380.4 L1795.5,378.4 L1795.9,376.5 L1796.3,374.5 L1796.7,372.6 L1797.1,370.6 L1797.6,368.6 L1798,366.7 L1798.4,364.7 L1798.9,362.8 L1799.3,360.8 L1799.7,358.9 L1800.1,356.9 L1800.6,355 L1801,353 L1801.4,351.1 L1801.9,349.1 L1802.3,347.1 L1802.7,345.2 L1803.2,343.2 L1803.6,341.3 L1804,339.3 L1804.5,337.4 L1804.9,335.4 L1805.3,333.5 L1805.8,331.5 L1806.2,329.6 L1806.7,327.6 L1807.1,325.7 L1807.5,323.7 L1808,321.8 L1808.5,319.8 L1808.9,317.9 L1809.4,315.9 L1809.9,314 L1810.3,312 L1810.8,310.1 L1811.3,308.2 L1811.8,306.2 L1812.3,304.3 L1812.8,302.3 L1813.3,300.4 L1813.8,298.5 L1814.3,296.5 L1814.8,294.6 L1815.4,292.7 L1815.9,290.7 L1816.5,288.8 L1817,286.9 L1817.5,285 L1818.1,283 L1818.6,281.1 L1819.2,279.2 L1819.8,277.3 L1820.3,275.4 L1820.9,273.4 L1821.5,271.5 L1822,269.6 L1822.6,267.7 L1823.2,265.8 L1823.7,263.8 L1824.3,261.9 L1824.9,260 L1825.5,258.1 L1826.1,256.2 L1826.7,254.3 L1827.3,252.4 L1827.9,250.5 L1828.6,248.6 L1829.2,246.7 L1829.9,244.8 L1830.6,243 L1831.3,241.1 L1832.1,239.2 L1832.9,237.4 L1833.7,235.6 L1834.6,233.8 L1835.5,232.1 L1836.5,230.5 L1837.7,228.9 L1838.9,227.4 L1840.2,226 L1841.7,224.7 L1843.2,223.6 L1844.8,222.6 L1846.5,221.7 L1848.3,221.1 L1850.1,220.6 L1851.9,220.3 L1853.8,220.2 L1855.6,220.3 L1857.5,220.6 L1859.3,221.1 L1861.1,221.8 L1862.8,222.6 L1864.5,223.6 L1866.1,224.7 L1867.6,225.9 L1869,227.2 L1870.4,228.6 L1871.8,230 L1873,231.5 L1874.2,233.1 L1875.4,234.7 L1876.5,236.4 L1877.5,238.1 L1878.5,239.8 L1879.5,241.6 L1880.4,243.3 L1881.3,245.1 L1882.1,246.9 L1883,248.8 L1883.7,250.6 L1884.5,252.4 L1885.3,254.3 L1886,256.2 L1886.7,258 L1887.4,259.9 L1888,261.8 L1888.7,263.7 L1889.4,265.6 L1890,267.5 L1890.6,269.4 L1891.3,271.3 L1891.9,273.1 L1892.6,275 L1893.2,276.9 L1893.9,278.8 L1894.5,280.7 L1895.1,282.6 L1895.8,284.5 L1896.4,286.4 L1897.1,288.3 L1897.7,290.2 L1898.3,292.1 L1899,294 L1899.6,295.9 L1900.2,297.8 L1900.8,299.7 L1901.4,301.6 L1902,303.5 L1902.6,305.4 L1903.2,307.4 L1903.7,309.3 L1904.3,311.2 L1904.9,313.1 L1905.5,315 L1906,317 L1906.6,318.9 L1907.2,320.8 L1907.7,322.7 L1908.3,324.6 L1908.9,326.5 L1909.4,328.5 L1910,330.4 L1910.6,332.3 L1911.2,334.2 L1911.7,336.1 L1912.3,338 L1912.9,340 L1913.5,341.9 L1914.1,343.8 L1914.6,345.7 L1915.2,347.6 L1915.8,349.5 L1916.4,351.4 L1917,353.4 L1917.6,355.3 L1918.1,357.2 L1918.7,359.1 L1919.3,361 L1919.9,362.9 L1920.5,364.8 L1921.1,366.7 L1921.7,368.7 L1922.2,370.6 L1922.8,372.5 L1923.4,374.4 L1923.9,376.3 L1924.4,378.3 L1925,380.2 L1925.5,382.1 L1926,384.1 L1926.5,386 L1926.9,388 L1927.4,389.9 L1927.9,391.9 L1928.3,393.8 L1928.8,395.8 L1929.2,397.7 L1929.6,399.7 L1930.1,401.6 L1930.5,403.6 L1930.9,405.5 L1931.3,407.5 L1931.7,409.4 L1932.1,411.4 L1932.6,413.4 L1933,415.3 L1933.4,417.3 L1933.8,419.2 L1934.2,421.2 L1934.6,423.1 L1935,425.1 L1935.5,427.1 L1935.9,429 L1936.3,431 L1936.7,432.9 L1937.1,434.9 L1937.6,436.8 L1938,438.8 L1938.4,440.7 L1938.9,442.7 L1939.3,444.6 L1939.8,446.6 L1940.2,448.6 L1940.6,450.5 L1941.1,452.5 L1941.5,454.4 L1942,456.4 L1942.4,458.3 L1942.9,460.3 L1943.3,462.2 L1943.8,464.1 L1944.3,466.1 L1944.7,468 L1945.2,470 L1945.7,471.9 L1946.1,473.9 L1946.6,475.8 L1947.1,477.8 L1947.6,479.7 L1948.1,481.6 L1948.6,483.6 L1949.1,485.5 L1949.7,487.4 L1950.2,489.4 L1950.7,491.3 L1951.3,493.2 L1951.8,495.1 L1952.4,497.1 L1952.9,499 L1953.5,500.9 L1954.1,502.8 L1954.7,504.7 L1955.2,506.6 L1955.8,508.6 L1956.4,510.5 L1957,512.4 L1957.6,514.3 L1958.2,516.2 L1958.8,518.1 L1959.5,520 L1960.1,521.9 L1960.7,523.8 L1961.3,525.7 L1962,527.6 L1962.6,529.5 L1963.3,531.4 L1963.9,533.3 L1964.6,535.2 L1965.2,537.1 L1965.9,538.9 L1966.6,540.8 L1967.2,542.7 L1967.9,544.6 L1968.6,546.5 L1969.3,548.4 L1970,550.2 L1970.6,552.1 L1971.3,554 L1972,555.9 L1972.7,557.8 L1973.4,559.6 L1974.1,561.5 L1974.8,563.4 L1975.6,565.2 L1976.3,567.1 L1977,569 L1977.7,570.8 L1978.4,572.7 L1979.2,574.6 L1979.9,576.4 L1980.6,578.3 L1981.4,580.1 L1982.1,582 L1982.9,583.9 L1983.6,585.7 L1984.4,587.6 L1985.2,589.4 L1985.9,591.3 L1986.7,593.1 L1987.5,595 L1988.3,596.8 L1989,598.6 L1989.8,600.5 L1990.6,602.3 L1991.5,604.1 L1992.3,606 L1993.1,607.8 L1994,609.6 L1994.8,611.4 L1995.7,613.2 L1996.6,615 L1997.5,616.8 L1998.4,618.5 L1999.4,620.3 L2000.3,622.1 L2001.3,623.8 L2002.3,625.6 L2003.3,627.3 L2004.3,629 L2005.3,630.7 L2006.4,632.4 L2007.5,634.1 L2008.6,635.7 L2009.8,637.3 L2011,639 L2012.2,640.6 L2013.4,642.1 L2014.6,643.7 L2015.9,645.2 L2017.3,646.7 L2018.6,648.2 L2020,649.6 L2021.4,651 L2022.9,652.3 L2024.4,653.6 L2026,654.8 L2027.6,656 L2029.2,657.1 L2030.9,658.2 L2032.6,659.2 L2034.4,660.1 L2036.1,661 L2037.9,661.8 L2039.8,662.6 L2041.6,663.4 L2043.5,664.1 L2045.4,664.7 L2047.3,665.3 L2049.2,665.9 L2051.1,666.4 L2053,666.9 L2055,667.4 L2056.9,667.8 L2058.9,668.2 L2060.9,668.5 L2062.8,668.8 L2064.8,669.1 L2066.8,669.4 L2068.8,669.6 L2070.8,669.9 L2072.8,670.1 L2074.7,670.3 L2076.7,670.6 L2078.7,670.8 L2080.7,670.9 L2082.7,671.1 L2084.7,671.3 L2086.7,671.5 L2088.7,671.7 L2090.7,671.9 L2092.7,672.1 L2094.6,672.4 L2096.6,672.6 L2098.6,672.9 L2100.6,673.3 L2102.5,673.7 L2104.5,674.1 L2106.4,674.6 L2108.3,675.1 L2110.3,675.6 L2112.2,676.2 L2114.1,676.8 L2115.9,677.5 L2117.8,678.2 L2119.6,679 L2121.4,679.8 L2123.2,680.7 L2125,681.6 L2126.7,682.6 L2128.4,683.6 L2130.1,684.7 L2131.7,685.8 L2133.3,687 L2134.9,688.2 L2136.5,689.4 L2138.1,690.7 L2139.6,692 L2141.1,693.3 L2142.6,694.6 L2144.1,695.9 L2145.6,697.3 L2147,698.7 L2148.5,700.1 L2149.9,701.5 L2151.3,702.9 L2152.7,704.3 L2154.2,705.7 L2155.6,707.1 L2157,708.5" fill="none" stroke="#dc0a12" stroke-width="11" stroke-linecap="round" stroke-linejoin="round"/>
<line x1="1673.1" y1="1094.8" x2="1855.8" y2="69.7" stroke="#18b068" stroke-width="6.5" stroke-linecap="butt"/>
<rect x="241.7" y="1314.4" width="1938.3" height="1039.6" fill="none" stroke="#000" stroke-width="7.5"/>
<line x1="225.7" y1="2354" x2="241.7" y2="2354" stroke="#000" stroke-width="7" stroke-linecap="butt"/>
<text x="195" y="2370" font-size="55" text-anchor="end">0</text>
<line x1="225.7" y1="2146.1" x2="241.7" y2="2146.1" stroke="#000" stroke-width="7" stroke-linecap="butt"/>
<text x="195" y="2162.1" font-size="55" text-anchor="end">50</text>
<line x1="225.7" y1="1938.2" x2="241.7" y2="1938.2" stroke="#000" stroke-width="7" stroke-linecap="butt"/>
<text x="195" y="1954.2" font-size="55" text-anchor="end">100</text>
<line x1="225.7" y1="1730.2" x2="241.7" y2="1730.2" stroke="#000" stroke-width="7" stroke-linecap="butt"/>
<text x="195" y="1746.2" font-size="55" text-anchor="end">150</text>
<line x1="225.7" y1="1522.3" x2="241.7" y2="1522.3" stroke="#000" stroke-width="7" stroke-linecap="butt"/>
<text x="195" y="1538.3" font-size="55" text-anchor="end">200</text>
<line x1="225.7" y1="1314.4" x2="241.7" y2="1314.4" stroke="#000" stroke-width="7" stroke-linecap="butt"/>
<text x="195" y="1330.4" font-size="55" text-anchor="end">250</text>
<line x1="241.7" y1="2354" x2="241.7" y2="2370" stroke="#000" stroke-width="7" stroke-linecap="butt"/>
<text x="241.7" y="2436" font-size="55" text-anchor="middle">2</text>
<line x1="564.8" y1="2354" x2="564.8" y2="2370" stroke="#000" stroke-width="7" stroke-linecap="butt"/>
<text x="564.8" y="2436" font-size="55" text-anchor="middle">2.2</text>
<line x1="887.8" y1="2354" x2="887.8" y2="2370" stroke="#000" stroke-width="7" stroke-linecap="butt"/>
<text x="887.8" y="2436" font-size="55" text-anchor="middle">2.4</text>
<line x1="1210.8" y1="2354" x2="1210.8" y2="2370" stroke="#000" stroke-width="7" stroke-linecap="butt"/>
<text x="1210.8" y="2436" font-size="55" text-anchor="middle">2.6</text>
<line x1="1533.9" y1="2354" x2="1533.9" y2="2370" stroke="#000" stroke-width="7" stroke-linecap="butt"/>
<text x="1533.9" y="2436" font-size="55" text-anchor="middle">2.8</text>
<line x1="1857" y1="2354" x2="1857" y2="2370" stroke="#000" stroke-width="7" stroke-linecap="butt"/>
<text x="1857" y="2436" font-size="55" text-anchor="middle">3</text>
<line x1="2180" y1="2354" x2="2180" y2="2370" stroke="#000" stroke-width="7" stroke-linecap="butt"/>
<text x="2180" y="2436" font-size="55" text-anchor="middle">3.2</text>
<text x="1255" y="2544" font-size="62" text-anchor="middle" textLength="204" lengthAdjust="spacing">h&#957; (eV)</text>
<text transform="translate(80.5,1836.5) rotate(-90)" x="0" y="0" font-size="62" text-anchor="middle" textLength="433" lengthAdjust="spacingAndGlyphs">(&#945;h&#957;)<tspan font-size="44" dy="-20">2</tspan><tspan dy="20" font-size="62"> (eV/cm)</tspan><tspan font-size="44" dy="-20">2</tspan></text>
<text x="2068" y="1419.5" font-size="96" text-anchor="middle" textLength="120" lengthAdjust="spacingAndGlyphs">(b)</text>
<path d="M434,1387.5 L434,1979 L1217,1979" fill="none" stroke="#000" stroke-width="7" stroke-linejoin="miter"/>
<line x1="422" y1="1979" x2="434" y2="1979" stroke="#000" stroke-width="7" stroke-linecap="butt"/>
<text x="395.5" y="1995.5" font-size="43" text-anchor="end">0</text>
<line x1="422" y1="1831.1" x2="434" y2="1831.1" stroke="#000" stroke-width="7" stroke-linecap="butt"/>
<text x="395.5" y="1847.6" font-size="43" text-anchor="end">2</text>
<line x1="422" y1="1683.2" x2="434" y2="1683.2" stroke="#000" stroke-width="7" stroke-linecap="butt"/>
<text x="395.5" y="1699.8" font-size="43" text-anchor="end">4</text>
<line x1="422" y1="1535.4" x2="434" y2="1535.4" stroke="#000" stroke-width="7" stroke-linecap="butt"/>
<text x="395.5" y="1551.9" font-size="43" text-anchor="end">6</text>
<line x1="422" y1="1387.5" x2="434" y2="1387.5" stroke="#000" stroke-width="7" stroke-linecap="butt"/>
<text x="395.5" y="1404" font-size="43" text-anchor="end">8</text>
<line x1="434" y1="1979" x2="434" y2="1991" stroke="#000" stroke-width="7" stroke-linecap="butt"/>
<text x="434" y="2045" font-size="43" text-anchor="middle">200</text>
<line x1="629.8" y1="1979" x2="629.8" y2="1991" stroke="#000" stroke-width="7" stroke-linecap="butt"/>
<text x="629.8" y="2045" font-size="43" text-anchor="middle">300</text>
<line x1="825.5" y1="1979" x2="825.5" y2="1991" stroke="#000" stroke-width="7" stroke-linecap="butt"/>
<text x="825.5" y="2045" font-size="43" text-anchor="middle">400</text>
<line x1="1021.2" y1="1979" x2="1021.2" y2="1991" stroke="#000" stroke-width="7" stroke-linecap="butt"/>
<text x="1021.2" y="2045" font-size="43" text-anchor="middle">500</text>
<line x1="1217" y1="1979" x2="1217" y2="1991" stroke="#000" stroke-width="7" stroke-linecap="butt"/>
<text x="1217" y="2045" font-size="43" text-anchor="middle">600</text>
<text x="827" y="2125" font-size="53" text-anchor="middle" textLength="406" lengthAdjust="spacing">Wavelength (nm)</text>
<text transform="translate(346,1684) rotate(-90)" x="0" y="0" font-size="53" text-anchor="middle" textLength="416" lengthAdjust="spacing">Absorbance (a.u.)</text>
<path d="M434,1765 L434,1763 L434,1761 L434,1759 L434.1,1757 L434.1,1755 L434.1,1753 L434.1,1751 L434.1,1749 L434.1,1747 L434.1,1745 L434.2,1743 L434.2,1741 L434.2,1739 L434.2,1737 L434.2,1735 L434.3,1733 L434.3,1731 L434.3,1729 L434.3,1727 L434.4,1725 L434.4,1723 L434.4,1721 L434.5,1719 L434.5,1717 L434.5,1715 L434.6,1713 L434.6,1711 L434.7,1709 L434.7,1707 L434.8,1705 L434.9,1703 L434.9,1701 L435,1699 L435.2,1697 L435.3,1695 L435.4,1693 L435.5,1691 L435.6,1689 L435.8,1687 L435.9,1685 L436,1683 L436.1,1681 L436.2,1679 L436.3,1677 L436.5,1675 L436.6,1673 L436.7,1671 L436.8,1669 L436.9,1667 L437.1,1665 L437.2,1663 L437.3,1661 L437.4,1659 L437.6,1657 L437.7,1655 L437.8,1653 L438,1651 L438.1,1649 L438.2,1647 L438.4,1645 L438.5,1643 L438.7,1641 L438.9,1639 L439.1,1637 L439.3,1635 L439.5,1633.1 L439.7,1631.1 L439.9,1629.1 L440.1,1627.1 L440.4,1625.1 L440.6,1623.1 L440.8,1621.1 L441,1619.1 L441.3,1617.1 L441.5,1615.2 L441.8,1613.2 L442,1611.2 L442.3,1609.2 L442.6,1607.2 L442.9,1605.2 L443.2,1603.3 L443.5,1601.3 L443.8,1599.3 L444.1,1597.3 L444.5,1595.4 L444.8,1593.4 L445.2,1591.4 L445.5,1589.4 L445.9,1587.5 L446.3,1585.5 L446.6,1583.5 L447,1581.6 L447.4,1579.6 L447.8,1577.7 L448.3,1575.7 L448.8,1573.8 L449.4,1571.9 L450,1570 L450.8,1568.1 L451.6,1566.3 L452.6,1564.6 L453.7,1563 L455,1561.4 L456.4,1560 L457.9,1559 L459.6,1558.6 L461.3,1558.9 L462.8,1559.9 L464.1,1561.3 L465.3,1562.9 L466.5,1564.6 L467.6,1566.2 L468.8,1567.8 L470.1,1569.4 L471.3,1571 L472.5,1572.6 L473.6,1574.2 L474.8,1575.8 L475.9,1577.5 L477.1,1579.1 L478.4,1580.6 L479.7,1582.1 L481.2,1583.4 L482.8,1584.3 L484.6,1584.6 L486.4,1584.4 L488.1,1583.5 L489.6,1582.3 L490.9,1580.8 L492.2,1579.3 L493.4,1577.7 L494.5,1576.1 L495.7,1574.4 L496.8,1572.8 L498,1571.2 L499.2,1569.6 L500.4,1568 L501.6,1566.4 L502.8,1564.7 L503.9,1563.1 L504.9,1561.4 L506,1559.7 L507.2,1558 L508.3,1556.4 L509.6,1554.8 L510.9,1553.4 L512.4,1552.1 L514,1551 L515.8,1550.1 L517.6,1549.4 L519.5,1548.9 L521.5,1548.5 L523.5,1548.3 L525.5,1548.3 L527.5,1548.4 L529.4,1548.8 L531.3,1549.3 L533.2,1550 L535.1,1550.5 L537,1550.7 L538.9,1550.4 L540.6,1549.6 L542.3,1548.6 L543.8,1547.3 L545.2,1545.9 L546.6,1544.4 L547.9,1542.9 L549.1,1541.3 L550.3,1539.7 L551.4,1538.1 L552.5,1536.4 L553.5,1534.7 L554.5,1532.9 L555.4,1531.1 L556.3,1529.4 L557.2,1527.6 L558.1,1525.8 L559.1,1524 L560,1522.2 L560.9,1520.5 L561.8,1518.7 L562.8,1516.9 L563.8,1515.2 L564.8,1513.4 L565.7,1511.7 L566.7,1509.9 L567.6,1508.2 L568.6,1506.4 L569.6,1504.7 L570.7,1503 L571.8,1501.4 L573.1,1499.8 L574.5,1498.4 L575.9,1497.1 L577.5,1495.8 L579.2,1494.8 L581,1494 L582.9,1493.6 L584.8,1493.6 L586.7,1494.1 L588.5,1494.8 L590.3,1495.7 L591.9,1496.8 L593.5,1498 L595.1,1499.3 L596.5,1500.6 L597.9,1502.1 L599.2,1503.6 L600.4,1505.2 L601.5,1506.9 L602.6,1508.5 L603.7,1510.2 L604.7,1511.9 L605.8,1513.6 L606.9,1515.3 L608,1517 L609.2,1518.6 L610.4,1520.2 L611.7,1521.7 L612.9,1523.3 L614.2,1524.8 L615.5,1526.3 L616.9,1527.8 L618.3,1529.3 L619.7,1530.7 L621.1,1532 L622.7,1533.3 L624.2,1534.5 L625.9,1535.7 L627.5,1536.9 L629.1,1538 L630.8,1539.2 L632.4,1540.3 L634,1541.5 L635.6,1542.8 L637.1,1544.1 L638.6,1545.4 L640.1,1546.7 L641.6,1548 L643.1,1549.4 L644.5,1550.8 L645.8,1552.3 L647.1,1553.8 L648.3,1555.4 L649.4,1557.1 L650.4,1558.8 L651.3,1560.6 L652.1,1562.5 L652.8,1564.3 L653.5,1566.2 L654.1,1568.1 L654.7,1570 L655.2,1571.9 L655.7,1573.9 L656.2,1575.8 L656.7,1577.8 L657.2,1579.7 L657.6,1581.7 L658.1,1583.6 L658.6,1585.6 L659,1587.5 L659.5,1589.4 L660,1591.4 L660.5,1593.3 L661,1595.3 L661.5,1597.2 L662,1599.1 L662.5,1601.1 L663,1603 L663.4,1605 L663.9,1606.9 L664.4,1608.9 L664.8,1610.8 L665.3,1612.8 L665.8,1614.7 L666.2,1616.6 L666.7,1618.6 L667.1,1620.5 L667.6,1622.5 L668,1624.4 L668.5,1626.4 L668.9,1628.3 L669.4,1630.3 L669.9,1632.2 L670.4,1634.2 L670.8,1636.1 L671.3,1638.1 L671.8,1640 L672.3,1641.9 L672.9,1643.9 L673.4,1645.8 L673.9,1647.7 L674.5,1649.6 L675.1,1651.6 L675.6,1653.5 L676.2,1655.4 L676.7,1657.4 L677.2,1659.3 L677.7,1661.2 L678.2,1663.2 L678.7,1665.1 L679.2,1667 L679.8,1669 L680.3,1670.9 L680.8,1672.8 L681.4,1674.7 L682,1676.7 L682.6,1678.6 L683.3,1680.4 L684,1682.3 L684.8,1684.1 L685.8,1685.8 L687,1687.1 L688.4,1687.7 L689.9,1687.4 L691.2,1686.4 L692.4,1684.8 L693.3,1683.1 L694.2,1681.3 L695,1679.5 L695.7,1677.6 L696.4,1675.7 L697.1,1673.9 L697.8,1672 L698.4,1670.1 L699.1,1668.2 L699.7,1666.3 L700.3,1664.4 L700.9,1662.5 L701.6,1660.6 L702.2,1658.7 L702.8,1656.7 L703.3,1654.8 L703.9,1652.9 L704.4,1651 L704.8,1649 L705.3,1647.1 L705.7,1645.1 L706.1,1643.2 L706.5,1641.2 L706.9,1639.2 L707.3,1637.3 L707.7,1635.3 L708,1633.3 L708.4,1631.4 L708.8,1629.4 L709.1,1627.4 L709.5,1625.4 L709.8,1623.5 L710.2,1621.5 L710.5,1619.5 L710.9,1617.6 L711.3,1615.6 L711.7,1613.6 L712,1611.7 L712.4,1609.7 L712.9,1607.8 L713.3,1605.8 L713.7,1603.9 L714.2,1601.9 L714.7,1600 L715.2,1598 L715.8,1596.1 L716.4,1594.2 L717,1592.3 L717.5,1590.4 L718.1,1588.4 L718.7,1586.5 L719.3,1584.6 L719.8,1582.7 L720.4,1580.8 L721,1578.9 L721.6,1577 L722.3,1575.1 L723,1573.2 L723.7,1571.3 L724.4,1569.5 L725.3,1567.7 L726.3,1566 L727.4,1564.5 L728.8,1563.6 L730.4,1563.4 L731.9,1564.2 L733.2,1565.5 L734.3,1567.1 L735.3,1568.8 L736.1,1570.6 L737,1572.4 L737.7,1574.3 L738.5,1576.2 L739.2,1578 L739.9,1579.9 L740.6,1581.8 L741.2,1583.7 L741.9,1585.6 L742.5,1587.5 L743.2,1589.4 L743.8,1591.3 L744.4,1593.2 L745,1595.1 L745.5,1597 L746,1599 L746.5,1600.9 L746.9,1602.8 L747.4,1604.8 L747.8,1606.8 L748.2,1608.7 L748.6,1610.7 L749,1612.6 L749.4,1614.6 L749.7,1616.6 L750.1,1618.5 L750.5,1620.5 L750.8,1622.5 L751.1,1624.5 L751.5,1626.4 L751.8,1628.4 L752.1,1630.4 L752.5,1632.3 L752.8,1634.3 L753.1,1636.3 L753.5,1638.3 L753.8,1640.2 L754.1,1642.2 L754.5,1644.2 L754.8,1646.2 L755.1,1648.1 L755.5,1650.1 L755.9,1652.1 L756.2,1654 L756.6,1656 L757,1658 L757.4,1659.9 L757.7,1661.9 L758.1,1663.9 L758.4,1665.9 L758.7,1667.8 L759.1,1669.8 L759.4,1671.8 L759.7,1673.8 L760,1675.7 L760.3,1677.7 L760.5,1679.7 L760.8,1681.7 L761.1,1683.7 L761.4,1685.6 L761.7,1687.6 L762,1689.6 L762.3,1691.6 L762.6,1693.6 L762.9,1695.5 L763.2,1697.5 L763.5,1699.5 L763.8,1701.5 L764.2,1703.4 L764.5,1705.4 L764.9,1707.4 L765.3,1709.3 L765.7,1711.3 L766.2,1713.3 L766.6,1715.2 L767.1,1717.1 L767.7,1719.1 L768.3,1721 L769,1722.8 L769.7,1724.7 L770.6,1726.5 L771.5,1728.3 L772.5,1730 L773.5,1731.7 L774.7,1733.4 L775.9,1735 L777.2,1736.5 L778.6,1737.9 L780.1,1739.1 L781.8,1740 L783.7,1740.4 L785.5,1740.4 L787.3,1739.7 L788.9,1738.7 L790.4,1737.4 L791.8,1736 L793.1,1734.5 L794.4,1732.9 L795.6,1731.3 L796.8,1729.8 L798.1,1728.2 L799.3,1726.6 L800.6,1725.1 L802,1723.7 L803.4,1722.3 L804.9,1720.9 L806.5,1719.7 L808.1,1718.5 L809.7,1717.3 L811.3,1716.2 L813,1715 L814.7,1713.9 L816.3,1712.8 L818,1711.7 L819.6,1710.5 L821.2,1709.3 L822.7,1708 L824.2,1706.7 L825.7,1705.3 L827.1,1703.9 L828.5,1702.5 L829.9,1701 L831.2,1699.6 L832.5,1698 L833.8,1696.5 L835,1694.9 L836.2,1693.3 L837.4,1691.7 L838.5,1690 L839.5,1688.3 L840.5,1686.6 L841.5,1684.8 L842.4,1683 L843.2,1681.2 L844,1679.4 L844.7,1677.5 L845.3,1675.6 L846,1673.7 L846.5,1671.8 L847.1,1669.9 L847.6,1667.9 L848.1,1666 L848.6,1664 L849.1,1662.1 L849.5,1660.2 L850,1658.2 L850.4,1656.2 L850.9,1654.3 L851.3,1652.3 L851.8,1650.4 L852.2,1648.4 L852.6,1646.5 L853.1,1644.5 L853.6,1642.6 L854.1,1640.7 L854.6,1638.7 L855.1,1636.8 L855.7,1634.9 L856.3,1633 L856.9,1631 L857.4,1629.1 L858,1627.2 L858.6,1625.3 L859.2,1623.4 L859.8,1621.5 L860.3,1619.6 L861,1617.6 L861.6,1615.7 L862.2,1613.9 L862.9,1612 L863.7,1610.1 L864.5,1608.3 L865.4,1606.5 L866.4,1604.8 L867.5,1603.1 L868.7,1601.5 L870,1600 L871.5,1598.8 L873.1,1597.8 L874.8,1597.5 L876.5,1597.9 L878.1,1598.9 L879.4,1600.3 L880.6,1601.8 L881.7,1603.5 L882.7,1605.2 L883.7,1607 L884.6,1608.8 L885.6,1610.5 L886.5,1612.3 L887.3,1614.1 L888.1,1616 L888.8,1617.8 L889.5,1619.7 L890.1,1621.6 L890.7,1623.5 L891.3,1625.5 L891.8,1627.4 L892.4,1629.3 L892.9,1631.2 L893.5,1633.1 L894.1,1635.1 L894.7,1637 L895.3,1638.9 L895.9,1640.8 L896.6,1642.7 L897.3,1644.5 L898.1,1646.4 L898.9,1648.2 L899.9,1649.9 L900.9,1651.6 L902,1653.3 L903.2,1654.9 L904.4,1656.5 L905.7,1658 L907.2,1659.3 L908.8,1660.2 L910.6,1660.6 L912.4,1660.4 L914,1659.6 L915.5,1658.4 L916.9,1656.9 L918.2,1655.4 L919.5,1653.9 L920.7,1652.3 L922,1650.7 L923.3,1649.2 L924.6,1647.7 L926,1646.3 L927.3,1644.8 L928.6,1643.3 L930,1641.8 L931.4,1640.5 L933,1639.4 L934.7,1638.8 L936.4,1638.9 L937.9,1639.8 L939.3,1641.1 L940.5,1642.6 L941.5,1644.4 L942.5,1646.1 L943.3,1647.9 L944.2,1649.7 L944.9,1651.6 L945.7,1653.4 L946.5,1655.3 L947.2,1657.1 L947.9,1659 L948.5,1660.9 L949.1,1662.8 L949.6,1664.8 L950.1,1666.7 L950.6,1668.6 L951.1,1670.6 L951.5,1672.6 L951.9,1674.5 L952.3,1676.5 L952.7,1678.4 L953.1,1680.4 L953.5,1682.4 L953.8,1684.3 L954.2,1686.3 L954.6,1688.3 L954.9,1690.2 L955.3,1692.2 L955.6,1694.2 L956,1696.1 L956.3,1698.1 L956.7,1700.1 L957.1,1702.1 L957.5,1704 L957.8,1706 L958.2,1707.9 L958.6,1709.9 L958.9,1711.9 L959.3,1713.9 L959.7,1715.8 L960,1717.8 L960.3,1719.8 L960.7,1721.7 L961,1723.7 L961.3,1725.7 L961.7,1727.7 L962,1729.6 L962.3,1731.6 L962.6,1733.6 L962.9,1735.6 L963.3,1737.5 L963.6,1739.5 L963.9,1741.5 L964.2,1743.5 L964.6,1745.4 L964.9,1747.4 L965.2,1749.4 L965.5,1751.4 L965.9,1753.3 L966.2,1755.3 L966.6,1757.3 L966.9,1759.3 L967.3,1761.2 L967.7,1763.2 L968,1765.2 L968.4,1767.1 L968.8,1769.1 L969.2,1771 L969.6,1773 L970,1775 L970.4,1776.9 L970.7,1778.9 L971.1,1780.9 L971.5,1782.8 L971.8,1784.8 L972.2,1786.8 L972.6,1788.7 L973,1790.7 L973.4,1792.7 L973.8,1794.6 L974.2,1796.6 L974.7,1798.5 L975.1,1800.5 L975.6,1802.4 L976.1,1804.4 L976.7,1806.3 L977.2,1808.2 L977.9,1810.1 L978.5,1812 L979.2,1813.9 L980,1815.7 L980.7,1817.6 L981.5,1819.4 L982.4,1821.2 L983.2,1823 L984.2,1824.8 L985.1,1826.6 L986.2,1828.3 L987.2,1829.9 L988.4,1831.6 L989.6,1833.1 L991,1834.6 L992.4,1836 L993.9,1837.3 L995.5,1838.5 L997.2,1839.5 L999,1840.4 L1000.8,1841.2 L1002.7,1841.9 L1004.6,1842.5 L1006.5,1843.1 L1008.4,1843.8 L1010.3,1844.4 L1012.2,1845.1 L1014,1845.9 L1015.9,1846.7 L1017.6,1847.6 L1019.4,1848.6 L1021.1,1849.5 L1022.9,1850.6 L1024.6,1851.6 L1026.3,1852.6 L1028,1853.7 L1029.7,1854.8 L1031.4,1855.8 L1033.1,1856.9 L1034.8,1858 L1036.5,1859 L1038.2,1860.1 L1039.9,1861.1 L1041.5,1862.2 L1043.2,1863.3 L1044.9,1864.4 L1046.6,1865.5 L1048.3,1866.6 L1049.9,1867.6 L1051.6,1868.7 L1053.4,1869.7 L1055.1,1870.7 L1056.9,1871.6 L1058.7,1872.5 L1060.5,1873.3 L1062.4,1874.1 L1064.2,1874.8 L1066.1,1875.4 L1068,1876 L1070,1876.5 L1071.9,1876.9 L1073.9,1877.2 L1075.9,1877.4 L1077.9,1877.4 L1079.9,1877.2 L1081.8,1876.9 L1083.8,1876.5 L1085.7,1875.9 L1087.6,1875.3 L1089.5,1874.7 L1091.4,1874 L1093.3,1873.3 L1095.1,1872.6 L1097,1871.8 L1098.9,1871.1 L1100.7,1870.5 L1102.6,1869.8 L1104.5,1869.1 L1106.4,1868.4 L1108.3,1867.7 L1110.1,1867 L1112,1866.2 L1113.8,1865.5 L1115.7,1864.7 L1117.5,1863.9 L1119.4,1863.1 L1121.2,1862.2 L1123,1861.4 L1124.7,1860.4 L1126.5,1859.5 L1128.2,1858.4 L1129.9,1857.4 L1131.5,1856.2 L1133.2,1855.1 L1134.8,1853.9 L1136.4,1852.7 L1138,1851.5 L1139.6,1850.3 L1141.2,1849.1 L1142.8,1847.9 L1144.4,1846.7 L1146.1,1845.6 L1147.8,1844.5 L1149.4,1843.4 L1151.1,1842.3 L1152.8,1841.2 L1154.5,1840.1 L1156.2,1839.1 L1157.9,1838.2 L1159.8,1837.5 L1161.7,1837.2 L1163.6,1837.2 L1165.5,1837.7 L1167.3,1838.5 L1168.9,1839.6 L1170.5,1840.8 L1172,1842.1 L1173.4,1843.5 L1174.8,1845 L1176.1,1846.5 L1177.4,1848 L1178.6,1849.6 L1179.8,1851.2 L1180.9,1852.9 L1182,1854.6 L1183,1856.3 L1184,1858 L1185,1859.8 L1186,1861.5 L1187,1863.2 L1188,1865 L1189,1866.7 L1190.1,1868.3 L1191.2,1870 L1192.4,1871.6 L1193.6,1873.3 L1194.7,1874.9 L1196,1876.5 L1197.2,1878 L1198.4,1879.6 L1199.7,1881.1 L1201.1,1882.6 L1202.5,1884 L1204,1885.3 L1205.6,1886.6 L1207.2,1887.7 L1208.9,1888.7 L1210.7,1889.6 L1212.5,1890.4 L1214.4,1891.2 L1216.2,1892.1 L1218,1892.9" fill="none" stroke="#0400c0" stroke-width="10" stroke-linecap="round" stroke-linejoin="round"/>
<path d="M241.7,2333 L243.7,2332.8 L245.7,2332.6 L247.7,2332.5 L249.7,2332.3 L251.7,2332.1 L253.7,2331.9 L255.6,2331.7 L257.6,2331.6 L259.6,2331.4 L261.6,2331.2 L263.6,2331 L265.6,2330.9 L267.6,2330.7 L269.6,2330.5 L271.6,2330.3 L273.6,2330.2 L275.6,2330 L277.6,2329.8 L279.6,2329.6 L281.6,2329.5 L283.5,2329.3 L285.5,2329.2 L287.5,2329 L289.5,2328.9 L291.5,2328.7 L293.5,2328.6 L295.5,2328.4 L297.5,2328.3 L299.5,2328.2 L301.5,2328 L303.5,2327.9 L305.5,2327.8 L307.5,2327.7 L309.5,2327.5 L311.5,2327.4 L313.5,2327.3 L315.5,2327.2 L317.5,2327 L319.5,2326.9 L321.5,2326.8 L323.5,2326.6 L325.5,2326.5 L327.5,2326.3 L329.4,2326.2 L331.4,2326 L333.4,2325.9 L335.4,2325.7 L337.4,2325.6 L339.4,2325.4 L341.4,2325.3 L343.4,2325.1 L345.4,2324.9 L347.4,2324.8 L349.4,2324.6 L351.4,2324.4 L353.4,2324.2 L355.4,2324.1 L357.4,2323.9 L359.3,2323.7 L361.3,2323.4 L363.3,2323.2 L365.3,2323 L367.3,2322.7 L369.3,2322.4 L371.2,2322.1 L373.2,2321.8 L375.2,2321.5 L377.2,2321.2 L379.1,2320.8 L381.1,2320.4 L383.1,2320 L385,2319.6 L387,2319.2 L388.9,2318.8 L390.9,2318.3 L392.8,2317.9 L394.8,2317.4 L396.7,2316.9 L398.6,2316.3 L400.5,2315.8 L402.5,2315.2 L404.4,2314.6 L406.3,2314 L408.2,2313.4 L410,2312.7 L411.9,2312 L413.8,2311.3 L415.7,2310.6 L417.5,2309.9 L419.4,2309.1 L421.2,2308.4 L423.1,2307.6 L424.9,2306.8 L426.8,2306.1 L428.6,2305.3 L430.4,2304.5 L432.3,2303.7 L434.1,2302.8 L435.9,2302 L437.7,2301.2 L439.5,2300.3 L441.3,2299.5 L443.1,2298.6 L444.9,2297.7 L446.7,2296.9 L448.5,2296 L450.3,2295.1 L452.1,2294.2 L453.9,2293.3 L455.7,2292.5 L457.5,2291.6 L459.4,2290.8 L461.2,2290 L463,2289.3 L464.9,2288.5 L466.8,2287.8 L468.7,2287.2 L470.5,2286.5 L472.5,2285.9 L474.4,2285.4 L476.3,2284.9 L478.2,2284.4 L480.2,2283.9 L482.1,2283.5 L484.1,2283.1 L486.1,2282.8 L488,2282.4 L490,2282.1 L492,2281.9 L494,2281.7 L496,2281.4 L497.9,2281.3 L499.9,2281.1 L501.9,2281 L503.9,2280.9 L505.9,2280.8 L507.9,2280.8 L509.9,2280.8 L511.9,2280.8 L513.9,2280.8 L515.9,2280.8 L517.9,2280.8 L519.9,2280.9 L521.9,2281 L523.9,2281.1 L525.9,2281.2 L527.9,2281.4 L529.9,2281.5 L531.9,2281.7 L533.9,2281.9 L535.9,2282.1 L537.8,2282.4 L539.8,2282.6 L541.8,2282.9 L543.8,2283.2 L545.8,2283.5 L547.7,2283.9 L549.7,2284.2 L551.7,2284.6 L553.6,2285 L555.6,2285.4 L557.5,2285.8 L559.5,2286.3 L561.4,2286.7 L563.4,2287.2 L565.3,2287.6 L567.3,2288.1 L569.2,2288.5 L571.2,2288.9 L573.1,2289.4 L575.1,2289.8 L577.1,2290.2 L579,2290.6 L581,2290.9 L582.9,2291.3 L584.9,2291.6 L586.9,2291.9 L588.9,2292.2 L590.9,2292.5 L592.8,2292.8 L594.8,2293.1 L596.8,2293.3 L598.8,2293.6 L600.8,2293.8 L602.8,2294 L604.7,2294.3 L606.7,2294.5 L608.7,2294.7 L610.7,2294.9 L612.7,2295.1 L614.7,2295.3 L616.7,2295.5 L618.7,2295.7 L620.7,2295.9 L622.7,2296.1 L624.6,2296.3 L626.6,2296.5 L628.6,2296.6 L630.6,2296.8 L632.6,2297 L634.6,2297.1 L636.6,2297.3 L638.6,2297.4 L640.6,2297.6 L642.6,2297.7 L644.6,2297.9 L646.6,2298 L648.6,2298.2 L650.6,2298.3 L652.6,2298.4 L654.6,2298.6 L656.6,2298.7 L658.6,2298.9 L660.5,2299 L662.5,2299.2 L664.5,2299.3 L666.5,2299.5 L668.5,2299.6 L670.5,2299.8 L672.5,2300 L674.5,2300.1 L676.5,2300.3 L678.5,2300.4 L680.5,2300.6 L682.5,2300.7 L684.5,2300.9 L686.5,2301 L688.5,2301.2 L690.5,2301.3 L692.5,2301.5 L694.5,2301.6 L696.5,2301.7 L698.4,2301.9 L700.4,2302 L702.4,2302.1 L704.4,2302.3 L706.4,2302.4 L708.4,2302.5 L710.4,2302.7 L712.4,2302.8 L714.4,2302.9 L716.4,2303 L718.4,2303.2 L720.4,2303.3 L722.4,2303.4 L724.4,2303.5 L726.4,2303.7 L728.4,2303.8 L730.4,2303.9 L732.4,2304.1 L734.4,2304.2 L736.4,2304.4 L738.4,2304.5 L740.4,2304.7 L742.4,2304.9 L744.3,2305 L746.3,2305.2 L748.3,2305.3 L750.3,2305.5 L752.3,2305.6 L754.3,2305.8 L756.3,2305.9 L758.3,2306 L760.3,2306.2 L762.3,2306.3 L764.3,2306.4 L766.3,2306.5 L768.3,2306.6 L770.3,2306.7 L772.3,2306.8 L774.3,2306.8 L776.3,2306.9 L778.3,2306.9 L780.3,2306.9 L782.3,2307 L784.3,2307 L786.3,2307 L788.3,2307 L790.3,2307 L792.3,2307 L794.3,2307 L796.3,2306.9 L798.3,2306.9 L800.3,2306.8 L802.3,2306.8 L804.3,2306.7 L806.3,2306.7 L808.3,2306.6 L810.3,2306.5 L812.3,2306.4 L814.3,2306.3 L816.3,2306.2 L818.3,2306.1 L820.3,2306 L822.3,2305.8 L824.3,2305.7 L826.3,2305.5 L828.3,2305.4 L830.2,2305.2 L832.2,2305 L834.2,2304.8 L836.2,2304.6 L838.2,2304.4 L840.2,2304.2 L842.2,2304 L844.2,2303.8 L846.2,2303.5 L848.1,2303.3 L850.1,2303.1 L852.1,2302.8 L854.1,2302.6 L856.1,2302.3 L858.1,2302.1 L860.1,2301.8 L862,2301.6 L864,2301.3 L866,2301.1 L868,2300.8 L870,2300.6 L872,2300.3 L874,2300.1 L875.9,2299.8 L877.9,2299.6 L879.9,2299.3 L881.9,2299.1 L883.9,2298.8 L885.9,2298.6 L887.8,2298.3 L889.8,2298.1 L891.8,2297.8 L893.8,2297.6 L895.8,2297.3 L897.8,2297 L899.7,2296.8 L901.7,2296.5 L903.7,2296.2 L905.7,2295.9 L907.7,2295.6 L909.6,2295.3 L911.6,2295 L913.6,2294.7 L915.6,2294.4 L917.5,2294.1 L919.5,2293.7 L921.5,2293.4 L923.5,2293 L925.4,2292.7 L927.4,2292.3 L929.4,2292 L931.3,2291.6 L933.3,2291.2 L935.3,2290.8 L937.2,2290.5 L939.2,2290.1 L941.1,2289.7 L943.1,2289.3 L945.1,2288.9 L947,2288.5 L949,2288.1 L950.9,2287.7 L952.9,2287.3 L954.9,2286.8 L956.8,2286.4 L958.8,2286 L960.7,2285.6 L962.7,2285.1 L964.6,2284.7 L966.6,2284.3 L968.5,2283.8 L970.5,2283.4 L972.4,2282.9 L974.4,2282.5 L976.3,2282 L978.3,2281.6 L980.2,2281.1 L982.2,2280.6 L984.1,2280.2 L986,2279.7 L988,2279.2 L989.9,2278.7 L991.9,2278.3 L993.8,2277.8 L995.8,2277.3 L997.7,2276.9 L999.7,2276.4 L1001.6,2276 L1003.6,2275.5 L1005.5,2275.1 L1007.5,2274.7 L1009.4,2274.2 L1011.4,2273.8 L1013.3,2273.4 L1015.3,2273 L1017.3,2272.6 L1019.2,2272.2 L1021.2,2271.9 L1023.2,2271.5 L1025.1,2271.1 L1027.1,2270.8 L1029.1,2270.4 L1031,2270 L1033,2269.7 L1035,2269.3 L1036.9,2269 L1038.9,2268.6 L1040.9,2268.3 L1042.8,2268 L1044.8,2267.6 L1046.8,2267.3 L1048.8,2267 L1050.7,2266.7 L1052.7,2266.4 L1054.7,2266.1 L1056.7,2265.8 L1058.7,2265.5 L1060.6,2265.2 L1062.6,2265 L1064.6,2264.7 L1066.6,2264.5 L1068.6,2264.2 L1070.6,2264 L1072.6,2263.8 L1074.5,2263.6 L1076.5,2263.4 L1078.5,2263.2 L1080.5,2263 L1082.5,2262.8 L1084.5,2262.6 L1086.5,2262.4 L1088.5,2262.2 L1090.5,2262 L1092.5,2261.8 L1094.4,2261.6 L1096.4,2261.3 L1098.4,2261.1 L1100.4,2260.9 L1102.4,2260.6 L1104.4,2260.4 L1106.4,2260.1 L1108.3,2259.9 L1110.3,2259.6 L1112.3,2259.3 L1114.3,2259 L1116.3,2258.7 L1118.2,2258.4 L1120.2,2258.1 L1122.2,2257.8 L1124.2,2257.4 L1126.1,2257.1 L1128.1,2256.7 L1130,2256.3 L1132,2255.8 L1133.9,2255.4 L1135.9,2254.9 L1137.8,2254.3 L1139.7,2253.7 L1141.6,2253.1 L1143.4,2252.4 L1145.3,2251.6 L1147.1,2250.8 L1148.9,2249.9 L1150.6,2249 L1152.4,2248.1 L1154.1,2247.1 L1155.8,2246 L1157.5,2245 L1159.2,2243.9 L1160.8,2242.8 L1162.5,2241.6 L1164.1,2240.4 L1165.7,2239.2 L1167.3,2238 L1168.8,2236.8 L1170.4,2235.5 L1171.9,2234.3 L1173.4,2233 L1174.9,2231.6 L1176.4,2230.3 L1177.8,2228.9 L1179.3,2227.5 L1180.6,2226.1 L1182,2224.6 L1183.3,2223.1 L1184.7,2221.6 L1185.9,2220.1 L1187.2,2218.5 L1188.5,2217 L1189.7,2215.4 L1190.9,2213.8 L1192.1,2212.2 L1193.2,2210.6 L1194.4,2208.9 L1195.5,2207.3 L1196.7,2205.6 L1197.8,2204 L1198.9,2202.3 L1200,2200.6 L1201,2198.9 L1202.1,2197.2 L1203.1,2195.5 L1204.2,2193.8 L1205.2,2192.1 L1206.2,2190.4 L1207.2,2188.7 L1208.2,2186.9 L1209.2,2185.2 L1210.2,2183.4 L1211.2,2181.7 L1212.1,2179.9 L1213.1,2178.2 L1214,2176.4 L1215,2174.7 L1215.9,2172.9 L1216.8,2171.1 L1217.8,2169.4 L1218.7,2167.6 L1219.6,2165.8 L1220.5,2164 L1221.4,2162.2 L1222.3,2160.4 L1223.2,2158.6 L1224.1,2156.8 L1225,2155.1 L1225.9,2153.3 L1226.8,2151.5 L1227.7,2149.7 L1228.6,2147.9 L1229.5,2146.1 L1230.4,2144.4 L1231.3,2142.6 L1232.2,2140.8 L1233.1,2139 L1234,2137.2 L1234.8,2135.4 L1235.6,2133.6 L1236.4,2131.7 L1237.2,2129.9 L1238,2128 L1238.7,2126.2 L1239.4,2124.3 L1240.1,2122.4 L1240.7,2120.5 L1241.4,2118.7 L1242,2116.8 L1242.6,2114.9 L1243.2,2113 L1243.9,2111 L1244.5,2109.1 L1245.1,2107.2 L1245.6,2105.3 L1246.2,2103.4 L1246.8,2101.5 L1247.4,2099.6 L1248,2097.7 L1248.6,2095.8 L1249.2,2093.8 L1249.7,2091.9 L1250.3,2090 L1250.9,2088.1 L1251.5,2086.2 L1252,2084.3 L1252.6,2082.3 L1253.2,2080.4 L1253.7,2078.5 L1254.3,2076.6 L1254.8,2074.7 L1255.4,2072.7 L1255.9,2070.8 L1256.5,2068.9 L1257.1,2067 L1257.6,2065.1 L1258.2,2063.1 L1258.7,2061.2 L1259.3,2059.3 L1259.8,2057.4 L1260.4,2055.5 L1261,2053.5 L1261.5,2051.6 L1262.1,2049.7 L1262.7,2047.8 L1263.2,2045.9 L1263.8,2043.9 L1264.4,2042 L1265,2040.1 L1265.5,2038.2 L1266.1,2036.3 L1266.7,2034.4 L1267.3,2032.4 L1267.8,2030.5 L1268.4,2028.6 L1269,2026.7 L1269.6,2024.8 L1270.2,2022.9 L1270.7,2021 L1271.3,2019 L1271.9,2017.1 L1272.5,2015.2 L1273,2013.3 L1273.6,2011.4 L1274.2,2009.5 L1274.8,2007.5 L1275.3,2005.6 L1275.9,2003.7 L1276.5,2001.8 L1277,1999.9 L1277.6,1998 L1278.2,1996 L1278.7,1994.1 L1279.3,1992.2 L1279.8,1990.3 L1280.4,1988.3 L1281,1986.4 L1281.5,1984.5 L1282.1,1982.6 L1282.6,1980.7 L1283.2,1978.7 L1283.7,1976.8 L1284.3,1974.9 L1284.8,1973 L1285.4,1971.1 L1285.9,1969.1 L1286.5,1967.2 L1287.1,1965.3 L1287.6,1963.4 L1288.2,1961.4 L1288.7,1959.5 L1289.3,1957.6 L1289.8,1955.7 L1290.4,1953.8 L1291,1951.8 L1291.5,1949.9 L1292.1,1948 L1292.7,1946.1 L1293.2,1944.2 L1293.8,1942.3 L1294.4,1940.3 L1294.9,1938.4 L1295.5,1936.5 L1296.1,1934.6 L1296.7,1932.7 L1297.2,1930.8 L1297.8,1928.8 L1298.4,1926.9 L1299,1925 L1299.5,1923.1 L1300.1,1921.2 L1300.7,1919.3 L1301.3,1917.3 L1301.9,1915.4 L1302.4,1913.5 L1303,1911.6 L1303.6,1909.7 L1304.2,1907.8 L1304.7,1905.8 L1305.3,1903.9 L1305.9,1902 L1306.5,1900.1 L1307,1898.2 L1307.6,1896.3 L1308.2,1894.4 L1308.8,1892.4 L1309.3,1890.5 L1309.9,1888.6 L1310.5,1886.7 L1311.1,1884.8 L1311.6,1882.9 L1312.2,1880.9 L1312.8,1879 L1313.3,1877.1 L1313.9,1875.2 L1314.5,1873.3 L1315.1,1871.4 L1315.6,1869.4 L1316.2,1867.5 L1316.8,1865.6 L1317.4,1863.7 L1317.9,1861.8 L1318.5,1859.9 L1319.1,1857.9 L1319.7,1856 L1320.3,1854.1 L1320.8,1852.2 L1321.4,1850.3 L1322,1848.4 L1322.6,1846.5 L1323.1,1844.5 L1323.7,1842.6 L1324.3,1840.7 L1324.9,1838.8 L1325.5,1836.9 L1326,1835 L1326.6,1833 L1327.2,1831.1 L1327.8,1829.2 L1328.3,1827.3 L1328.9,1825.4 L1329.5,1823.5 L1330.1,1821.6 L1330.7,1819.7 L1331.3,1817.7 L1331.9,1815.8 L1332.5,1813.9 L1333.1,1812 L1333.7,1810.1 L1334.3,1808.2 L1334.9,1806.3 L1335.6,1804.4 L1336.2,1802.5 L1336.8,1800.6 L1337.5,1798.7 L1338.1,1796.8 L1338.8,1794.9 L1339.5,1793.1 L1340.1,1791.2 L1340.8,1789.3 L1341.5,1787.4 L1342.2,1785.5 L1342.9,1783.7 L1343.6,1781.8 L1344.3,1779.9 L1345,1778 L1345.7,1776.2 L1346.4,1774.3 L1347.1,1772.4 L1347.9,1770.6 L1348.6,1768.7 L1349.3,1766.8 L1350.1,1765 L1350.8,1763.1 L1351.5,1761.3 L1352.3,1759.4 L1353,1757.6 L1353.8,1755.7 L1354.5,1753.8 L1355.3,1752 L1356.1,1750.2 L1356.8,1748.3 L1357.6,1746.5 L1358.4,1744.6 L1359.1,1742.8 L1359.9,1740.9 L1360.7,1739.1 L1361.4,1737.2 L1362.2,1735.4 L1362.9,1733.5 L1363.7,1731.7 L1364.4,1729.8 L1365.2,1727.9 L1365.9,1726.1 L1366.7,1724.3 L1367.5,1722.4 L1368.3,1720.6 L1369.1,1718.8 L1370,1717 L1370.9,1715.2 L1371.8,1713.4 L1372.8,1711.7 L1373.8,1710 L1374.8,1708.3 L1375.9,1706.6 L1377.1,1705 L1378.3,1703.4 L1379.5,1701.8 L1380.8,1700.3 L1382.2,1698.9 L1383.6,1697.5 L1385.1,1696.2 L1386.6,1695 L1388.2,1693.9 L1389.9,1692.9 L1391.6,1691.9 L1393.4,1691 L1395.2,1690.3 L1397,1689.6 L1398.9,1689 L1400.8,1688.5 L1402.8,1688.1 L1404.7,1687.8 L1406.7,1687.6 L1408.6,1687.4 L1410.6,1687.3 L1412.6,1687.4 L1414.6,1687.5 L1416.5,1687.7 L1418.5,1688 L1420.4,1688.3 L1422.4,1688.8 L1424.3,1689.3 L1426.1,1690 L1428,1690.7 L1429.8,1691.5 L1431.6,1692.3 L1433.3,1693.3 L1435,1694.3 L1436.7,1695.3 L1438.4,1696.4 L1440,1697.6 L1441.6,1698.8 L1443.2,1700 L1444.8,1701.2 L1446.3,1702.5 L1447.8,1703.8 L1449.3,1705.1 L1450.8,1706.4 L1452.3,1707.7 L1453.8,1709.1 L1455.3,1710.4 L1456.7,1711.8 L1458.1,1713.2 L1459.6,1714.6 L1461,1716 L1462.4,1717.4 L1463.8,1718.8 L1465.2,1720.2 L1466.7,1721.7 L1468.1,1723.1 L1469.5,1724.5 L1471,1725.9 L1472.4,1727.2 L1473.9,1728.6 L1475.3,1730 L1476.8,1731.3 L1478.3,1732.6 L1479.9,1733.9 L1481.4,1735.1 L1483,1736.3 L1484.6,1737.4 L1486.3,1738.5 L1488,1739.6 L1489.7,1740.5 L1491.5,1741.5 L1493.3,1742.3 L1495.1,1743.1 L1496.9,1743.9 L1498.8,1744.6 L1500.7,1745.2 L1502.6,1745.7 L1504.5,1746.2 L1506.5,1746.6 L1508.4,1747 L1510.4,1747.2 L1512.3,1747.4 L1514.3,1747.5 L1516.3,1747.6 L1518.3,1747.5 L1520.2,1747.3 L1522.2,1747.1 L1524.1,1746.8 L1526.1,1746.3 L1527.9,1745.8 L1529.8,1745.2 L1531.6,1744.4 L1533.4,1743.5 L1535.1,1742.6 L1536.7,1741.5 L1538.4,1740.4 L1540,1739.2 L1541.5,1738 L1543.1,1736.7 L1544.6,1735.4 L1546.1,1734.1 L1547.6,1732.8 L1549,1731.4 L1550.5,1730.1 L1551.9,1728.7 L1553.3,1727.3 L1554.7,1725.8 L1556.1,1724.4 L1557.5,1722.9 L1558.8,1721.4 L1560.1,1719.9 L1561.4,1718.4 L1562.7,1716.9 L1563.9,1715.3 L1565.1,1713.7 L1566.3,1712.1 L1567.5,1710.5 L1568.7,1708.9 L1569.8,1707.2 L1570.9,1705.6 L1572,1703.9 L1573.1,1702.2 L1574.1,1700.5 L1575.2,1698.8 L1576.2,1697.1 L1577.2,1695.4 L1578.3,1693.6 L1579.2,1691.9 L1580.2,1690.2 L1581.2,1688.4 L1582.1,1686.7 L1583.1,1684.9 L1584,1683.1 L1584.9,1681.3 L1585.8,1679.6 L1586.7,1677.8 L1587.6,1676 L1588.5,1674.2 L1589.4,1672.4 L1590.3,1670.6 L1591.1,1668.8 L1592,1667 L1592.8,1665.2 L1593.7,1663.4 L1594.5,1661.6 L1595.4,1659.7 L1596.2,1657.9 L1597,1656.1 L1597.8,1654.3 L1598.6,1652.4 L1599.4,1650.6 L1600.2,1648.8 L1601,1646.9 L1601.7,1645 L1602.4,1643.2 L1603.1,1641.3 L1603.8,1639.4 L1604.5,1637.6 L1605.2,1635.7 L1605.9,1633.8 L1606.5,1631.9 L1607.2,1630 L1607.9,1628.1 L1608.6,1626.3 L1609.2,1624.4 L1609.9,1622.5 L1610.6,1620.6 L1611.3,1618.8 L1612.1,1616.9 L1612.8,1615 L1613.5,1613.2 L1614.3,1611.3 L1615,1609.5 L1615.8,1607.6 L1616.5,1605.7 L1617.3,1603.9 L1618,1602 L1618.8,1600.2 L1619.5,1598.3 L1620.3,1596.5 L1621,1594.6 L1621.8,1592.8 L1622.5,1590.9 L1623.2,1589 L1624,1587.2 L1624.7,1585.3 L1625.4,1583.4 L1626.1,1581.6 L1626.8,1579.7 L1627.5,1577.8 L1628.2,1575.9 L1628.9,1574.1 L1629.5,1572.2 L1630.2,1570.3 L1630.9,1568.4 L1631.5,1566.5 L1632.2,1564.6 L1632.9,1562.7 L1633.5,1560.9 L1634.2,1559 L1634.8,1557.1 L1635.4,1555.2 L1636.1,1553.3 L1636.7,1551.4 L1637.4,1549.5 L1638,1547.6 L1638.7,1545.7 L1639.4,1543.8 L1640,1541.9 L1640.7,1540 L1641.3,1538.2 L1642,1536.3 L1642.6,1534.4 L1643.3,1532.5 L1643.9,1530.6 L1644.6,1528.7 L1645.2,1526.8 L1645.9,1524.9 L1646.5,1523 L1647.2,1521.1 L1647.8,1519.2 L1648.5,1517.4 L1649.2,1515.5 L1649.8,1513.6 L1650.5,1511.7 L1651.2,1509.8 L1651.9,1507.9 L1652.6,1506.1 L1653.3,1504.2 L1654,1502.3 L1654.7,1500.5 L1655.5,1498.6 L1656.2,1496.7 L1656.9,1494.9 L1657.7,1493 L1658.4,1491.2 L1659.2,1489.3 L1659.9,1487.5 L1660.7,1485.6 L1661.5,1483.8 L1662.2,1481.9 L1663,1480.1 L1663.8,1478.2 L1664.6,1476.4 L1665.4,1474.6 L1666.2,1472.7 L1667,1470.9 L1667.8,1469.1 L1668.6,1467.2 L1669.4,1465.4 L1670.2,1463.6 L1671,1461.8 L1671.8,1459.9 L1672.7,1458.1 L1673.5,1456.3 L1674.4,1454.5 L1675.2,1452.7 L1676.1,1450.9 L1677,1449.1 L1677.9,1447.3 L1678.8,1445.5 L1679.7,1443.8 L1680.7,1442 L1681.6,1440.2 L1682.6,1438.5 L1683.6,1436.7 L1684.6,1435 L1685.6,1433.3 L1686.6,1431.5 L1687.6,1429.8 L1688.7,1428.1 L1689.7,1426.5 L1690.8,1424.8 L1692,1423.1 L1693.1,1421.5 L1694.3,1419.9 L1695.5,1418.3 L1696.7,1416.7 L1698,1415.2 L1699.3,1413.6 L1700.6,1412.1 L1701.9,1410.7 L1703.3,1409.2 L1704.7,1407.8 L1706.2,1406.5 L1707.7,1405.2 L1709.2,1403.9 L1710.8,1402.7 L1712.4,1401.6 L1714.1,1400.5 L1715.8,1399.5 L1717.5,1398.5 L1719.3,1397.6 L1721.1,1396.8 L1722.9,1396.1 L1724.8,1395.5 L1726.7,1395 L1728.6,1394.5 L1730.5,1394.2 L1732.5,1394 L1734.4,1393.9 L1736.4,1394 L1738.3,1394.2 L1740.3,1394.4 L1742.2,1394.9 L1744.1,1395.4 L1745.9,1396 L1747.7,1396.7 L1749.5,1397.6 L1751.3,1398.5 L1753,1399.5 L1754.6,1400.6 L1756.2,1401.7 L1757.8,1403 L1759.2,1404.3 L1760.7,1405.6 L1762.1,1407 L1763.4,1408.5 L1764.8,1410 L1766.1,1411.5 L1767.3,1413 L1768.6,1414.6 L1769.8,1416.2 L1771,1417.8 L1772.2,1419.4 L1773.4,1421 L1774.5,1422.6 L1775.6,1424.3 L1776.7,1426 L1777.8,1427.6 L1778.9,1429.3 L1779.9,1431 L1781,1432.7 L1782,1434.4 L1783.1,1436.2 L1784.1,1437.9 L1785.1,1439.6 L1786.1,1441.3 L1787.1,1443.1 L1788.1,1444.8 L1789,1446.6 L1790,1448.3 L1791,1450.1 L1791.9,1451.8 L1792.8,1453.6 L1793.8,1455.4 L1794.7,1457.2 L1795.6,1458.9 L1796.4,1460.7 L1797.3,1462.5 L1798.2,1464.3 L1799,1466.1 L1799.9,1468 L1800.7,1469.8 L1801.5,1471.6 L1802.3,1473.4 L1803.1,1475.3 L1803.9,1477.1 L1804.7,1478.9 L1805.5,1480.8 L1806.3,1482.6 L1807.1,1484.5 L1807.9,1486.3 L1808.7,1488.1 L1809.5,1490 L1810.3,1491.8 L1811.1,1493.6 L1811.9,1495.5 L1812.7,1497.3 L1813.5,1499.1 L1814.3,1501 L1815.1,1502.8 L1815.9,1504.6 L1816.7,1506.4 L1817.5,1508.3 L1818.4,1510.1 L1819.2,1511.9 L1820,1513.7 L1820.8,1515.6 L1821.6,1517.4 L1822.4,1519.2 L1823.2,1521.1 L1824.1,1522.9 L1824.9,1524.7 L1825.7,1526.5 L1826.5,1528.4 L1827.3,1530.2 L1828.1,1532 L1829,1533.8 L1829.8,1535.7 L1830.6,1537.5 L1831.4,1539.3 L1832.3,1541.1 L1833.1,1542.9 L1833.9,1544.8 L1834.7,1546.6 L1835.5,1548.4 L1836.3,1550.3 L1837.1,1552.1 L1837.9,1553.9 L1838.7,1555.8 L1839.5,1557.6 L1840.3,1559.5 L1841,1561.3 L1841.8,1563.2 L1842.5,1565 L1843.2,1566.9 L1844,1568.8 L1844.7,1570.6 L1845.4,1572.5 L1846.1,1574.4 L1846.8,1576.2 L1847.4,1578.1 L1848.1,1580 L1848.8,1581.9 L1849.5,1583.8 L1850.1,1585.7 L1850.8,1587.5 L1851.5,1589.4 L1852.2,1591.3 L1852.8,1593.2 L1853.5,1595.1 L1854.2,1597 L1854.9,1598.8 L1855.5,1600.7 L1856.2,1602.6 L1856.9,1604.5 L1857.6,1606.3 L1858.4,1608.2 L1859.1,1610.1 L1859.8,1611.9 L1860.5,1613.8 L1861.3,1615.7 L1862,1617.5 L1862.8,1619.4 L1863.5,1621.2 L1864.3,1623.1 L1865.1,1624.9 L1865.9,1626.8 L1866.6,1628.6 L1867.4,1630.4 L1868.2,1632.3 L1869,1634.1 L1869.8,1635.9 L1870.6,1637.8 L1871.4,1639.6 L1872.2,1641.4 L1873,1643.3 L1873.8,1645.1 L1874.7,1646.9 L1875.5,1648.7 L1876.3,1650.6 L1877.1,1652.4 L1877.9,1654.2 L1878.7,1656.1 L1879.6,1657.9 L1880.4,1659.7 L1881.2,1661.5 L1882,1663.3 L1882.9,1665.2 L1883.7,1667 L1884.6,1668.8 L1885.4,1670.6 L1886.3,1672.4 L1887.1,1674.2 L1888,1676 L1888.9,1677.8 L1889.8,1679.6 L1890.7,1681.4 L1891.6,1683.2 L1892.5,1684.9 L1893.4,1686.7 L1894.4,1688.5 L1895.3,1690.2 L1896.3,1692 L1897.2,1693.8 L1898.2,1695.5 L1899.1,1697.3 L1900.1,1699 L1901.1,1700.7 L1902.1,1702.5 L1903.1,1704.2 L1904.1,1705.9 L1905.1,1707.7 L1906.2,1709.4 L1907.2,1711.1 L1908.2,1712.8 L1909.3,1714.5 L1910.3,1716.2 L1911.4,1717.9 L1912.5,1719.6 L1913.5,1721.3 L1914.6,1723 L1915.7,1724.7 L1916.8,1726.3 L1917.9,1728 L1919,1729.7 L1920.1,1731.3 L1921.2,1733 L1922.4,1734.6 L1923.5,1736.3 L1924.7,1737.9 L1925.8,1739.5 L1927,1741.2 L1928.2,1742.8 L1929.3,1744.4 L1930.5,1746 L1931.8,1747.6 L1933,1749.2 L1934.2,1750.7 L1935.4,1752.3 L1936.7,1753.9 L1937.9,1755.4 L1939.2,1757 L1940.5,1758.5 L1941.8,1760.1 L1943.1,1761.6 L1944.4,1763.1 L1945.7,1764.6 L1947.1,1766 L1948.4,1767.5 L1949.8,1769 L1951.2,1770.4 L1952.6,1771.8 L1954.1,1773.2 L1955.5,1774.5 L1957,1775.9 L1958.5,1777.2 L1960,1778.5 L1961.6,1779.8 L1963.1,1781 L1964.7,1782.3 L1966.3,1783.5 L1967.9,1784.7 L1969.5,1785.9 L1971.1,1787 L1972.7,1788.2 L1974.4,1789.3 L1976.1,1790.4 L1977.7,1791.5 L1979.4,1792.5 L1981.1,1793.6 L1982.9,1794.6 L1984.6,1795.6 L1986.3,1796.6 L1988.1,1797.6 L1989.8,1798.5 L1991.6,1799.4 L1993.4,1800.3 L1995.2,1801.2 L1997,1802.1 L1998.8,1802.9 L2000.6,1803.7 L2002.5,1804.5 L2004.3,1805.2 L2006.2,1806 L2008,1806.7 L2009.9,1807.4 L2011.8,1808.1 L2013.7,1808.7 L2015.6,1809.3 L2017.5,1809.9 L2019.4,1810.4 L2021.4,1811 L2023.3,1811.5 L2025.2,1812 L2027.2,1812.4 L2029.1,1812.9 L2031.1,1813.3 L2033,1813.7 L2035,1814.1 L2037,1814.5 L2038.9,1814.9 L2040.9,1815.3 L2042.8,1815.7 L2044.8,1816.1 L2046.8,1816.5 L2048.7,1816.9 L2050.7,1817.2 L2052.7,1817.6 L2054.6,1818 L2056.6,1818.4 L2058.6,1818.7 L2060.5,1819.1 L2062.5,1819.4 L2064.5,1819.8 L2066.4,1820.2 L2068.4,1820.5 L2070.4,1820.9 L2072.3,1821.3 L2074.3,1821.7 L2076.2,1822.1 L2078.2,1822.5 L2080.1,1823 L2082.1,1823.4 L2084,1823.8 L2086,1824.3 L2087.9,1824.7 L2089.9,1825.2 L2091.8,1825.7 L2093.8,1826.1 L2095.7,1826.6 L2097.7,1827.1 L2099.6,1827.6 L2101.5,1828.1 L2103.5,1828.7 L2105.4,1829.2 L2107.3,1829.7 L2109.2,1830.3 L2111.2,1830.8 L2113.1,1831.4 L2115,1832 L2116.9,1832.6 L2118.8,1833.2 L2120.7,1833.9 L2122.6,1834.5 L2124.5,1835.2 L2126.4,1835.8 L2128.2,1836.5 L2130.1,1837.1 L2132,1837.8 L2133.9,1838.5 L2135.8,1839.1 L2137.7,1839.8 L2139.6,1840.5 L2141.5,1841.1 L2143.3,1841.8 L2145.2,1842.4 L2147.1,1843 L2149,1843.7 L2150.9,1844.3 L2152.8,1844.9 L2154.7,1845.5 L2156.6,1846.2 L2158.5,1846.8 L2160.5,1847.4 L2162.4,1848 L2164.3,1848.6 L2166.2,1849.2 L2168.1,1849.8 L2170,1850.4 L2171.9,1851.1 L2173.8,1851.7 L2175.7,1852.3 L2177.6,1852.9 L2179.5,1853.5" fill="none" stroke="#dc0a12" stroke-width="11" stroke-linecap="round" stroke-linejoin="round"/>
<line x1="1174.4" y1="2360.2" x2="1463.1" y2="1381.2" stroke="#18b068" stroke-width="6.5" stroke-linecap="butt"/>
<rect x="249.4" y="2631.3" width="1925.6" height="1057.2" fill="none" stroke="#000" stroke-width="7.5"/>
<line x1="233.4" y1="3688.5" x2="249.4" y2="3688.5" stroke="#000" stroke-width="7" stroke-linecap="butt"/>
<text x="203" y="3704.5" font-size="55" text-anchor="end">0</text>
<line x1="233.4" y1="3512.3" x2="249.4" y2="3512.3" stroke="#000" stroke-width="7" stroke-linecap="butt"/>
<text x="203" y="3528.3" font-size="55" text-anchor="end">50</text>
<line x1="233.4" y1="3336.1" x2="249.4" y2="3336.1" stroke="#000" stroke-width="7" stroke-linecap="butt"/>
<text x="203" y="3352.1" font-size="55" text-anchor="end">100</text>
<line x1="233.4" y1="3159.9" x2="249.4" y2="3159.9" stroke="#000" stroke-width="7" stroke-linecap="butt"/>
<text x="203" y="3175.9" font-size="55" text-anchor="end">150</text>
<line x1="233.4" y1="2983.7" x2="249.4" y2="2983.7" stroke="#000" stroke-width="7" stroke-linecap="butt"/>
<text x="203" y="2999.7" font-size="55" text-anchor="end">200</text>
<line x1="233.4" y1="2807.5" x2="249.4" y2="2807.5" stroke="#000" stroke-width="7" stroke-linecap="butt"/>
<text x="203" y="2823.5" font-size="55" text-anchor="end">250</text>
<line x1="233.4" y1="2631.3" x2="249.4" y2="2631.3" stroke="#000" stroke-width="7" stroke-linecap="butt"/>
<text x="203" y="2647.3" font-size="55" text-anchor="end">300</text>
<line x1="249.4" y1="3688.5" x2="249.4" y2="3704.5" stroke="#000" stroke-width="7" stroke-linecap="butt"/>
<text x="249.4" y="3772" font-size="55" text-anchor="middle">2</text>
<line x1="634.5" y1="3688.5" x2="634.5" y2="3704.5" stroke="#000" stroke-width="7" stroke-linecap="butt"/>
<text x="634.5" y="3772" font-size="55" text-anchor="middle">2.2</text>
<line x1="1019.6" y1="3688.5" x2="1019.6" y2="3704.5" stroke="#000" stroke-width="7" stroke-linecap="butt"/>
<text x="1019.6" y="3772" font-size="55" text-anchor="middle">2.4</text>
<line x1="1404.8" y1="3688.5" x2="1404.8" y2="3704.5" stroke="#000" stroke-width="7" stroke-linecap="butt"/>
<text x="1404.8" y="3772" font-size="55" text-anchor="middle">2.6</text>
<line x1="1789.9" y1="3688.5" x2="1789.9" y2="3704.5" stroke="#000" stroke-width="7" stroke-linecap="butt"/>
<text x="1789.9" y="3772" font-size="55" text-anchor="middle">2.8</text>
<line x1="2175" y1="3688.5" x2="2175" y2="3704.5" stroke="#000" stroke-width="7" stroke-linecap="butt"/>
<text x="2175" y="3772" font-size="55" text-anchor="middle">3</text>
<text x="1212" y="3863.5" font-size="62" text-anchor="middle" textLength="204" lengthAdjust="spacing">h&#957; (eV)</text>
<text transform="translate(87,3162.5) rotate(-90)" x="0" y="0" font-size="62" text-anchor="middle" textLength="433" lengthAdjust="spacingAndGlyphs">(&#945;h&#957;)<tspan font-size="44" dy="-20">2</tspan><tspan dy="20" font-size="62"> (eV/cm)</tspan><tspan font-size="44" dy="-20">2</tspan></text>
<text x="2062" y="2748" font-size="96" text-anchor="middle" textLength="108" lengthAdjust="spacingAndGlyphs">(c)</text>
<path d="M473,2738.5 L473,3386 L1428.5,3386" fill="none" stroke="#000" stroke-width="7" stroke-linejoin="miter"/>
<line x1="461" y1="3386" x2="473" y2="3386" stroke="#000" stroke-width="7" stroke-linecap="butt"/>
<text x="434.5" y="3400" font-size="43" text-anchor="end">0</text>
<line x1="461" y1="3293.5" x2="473" y2="3293.5" stroke="#000" stroke-width="7" stroke-linecap="butt"/>
<text x="434.5" y="3307.5" font-size="43" text-anchor="end">1</text>
<line x1="461" y1="3201" x2="473" y2="3201" stroke="#000" stroke-width="7" stroke-linecap="butt"/>
<text x="434.5" y="3215" font-size="43" text-anchor="end">2</text>
<line x1="461" y1="3108.5" x2="473" y2="3108.5" stroke="#000" stroke-width="7" stroke-linecap="butt"/>
<text x="434.5" y="3122.5" font-size="43" text-anchor="end">3</text>
<line x1="461" y1="3016" x2="473" y2="3016" stroke="#000" stroke-width="7" stroke-linecap="butt"/>
<text x="434.5" y="3030" font-size="43" text-anchor="end">4</text>
<line x1="461" y1="2923.5" x2="473" y2="2923.5" stroke="#000" stroke-width="7" stroke-linecap="butt"/>
<text x="434.5" y="2937.5" font-size="43" text-anchor="end">5</text>
<line x1="461" y1="2831" x2="473" y2="2831" stroke="#000" stroke-width="7" stroke-linecap="butt"/>
<text x="434.5" y="2845" font-size="43" text-anchor="end">6</text>
<line x1="461" y1="2738.5" x2="473" y2="2738.5" stroke="#000" stroke-width="7" stroke-linecap="butt"/>
<text x="434.5" y="2752.5" font-size="43" text-anchor="end">7</text>
<line x1="473" y1="3386" x2="473" y2="3398" stroke="#000" stroke-width="7" stroke-linecap="butt"/>
<text x="473" y="3453" font-size="43" text-anchor="middle">200</text>
<line x1="711.9" y1="3386" x2="711.9" y2="3398" stroke="#000" stroke-width="7" stroke-linecap="butt"/>
<text x="711.9" y="3453" font-size="43" text-anchor="middle">300</text>
<line x1="950.8" y1="3386" x2="950.8" y2="3398" stroke="#000" stroke-width="7" stroke-linecap="butt"/>
<text x="950.8" y="3453" font-size="43" text-anchor="middle">400</text>
<line x1="1189.6" y1="3386" x2="1189.6" y2="3398" stroke="#000" stroke-width="7" stroke-linecap="butt"/>
<text x="1189.6" y="3453" font-size="43" text-anchor="middle">500</text>
<line x1="1428.5" y1="3386" x2="1428.5" y2="3398" stroke="#000" stroke-width="7" stroke-linecap="butt"/>
<text x="1428.5" y="3453" font-size="43" text-anchor="middle">600</text>
<text x="952.5" y="3531" font-size="53" text-anchor="middle" textLength="405" lengthAdjust="spacing">Wavelength (nm)</text>
<text transform="translate(365.5,3030.5) rotate(-90)" x="0" y="0" font-size="53" text-anchor="middle" textLength="416" lengthAdjust="spacing">Absorbance (a.u.)</text>
<path d="M472.3,3002.2 L472.7,3000.2 L473.1,2998.3 L473.4,2996.3 L473.8,2994.3 L474.2,2992.4 L474.5,2990.4 L474.9,2988.4 L475.3,2986.5 L475.6,2984.5 L476,2982.6 L476.5,2980.6 L476.9,2978.6 L477.3,2976.7 L477.8,2974.7 L478.3,2972.8 L478.7,2970.9 L479.2,2968.9 L479.7,2967 L480.1,2965 L480.6,2963.1 L481.1,2961.1 L481.7,2959.2 L482.2,2957.3 L482.8,2955.4 L483.5,2953.5 L484.2,2951.6 L484.9,2949.8 L485.7,2948 L486.6,2946.2 L487.5,2944.4 L488.4,2942.6 L489.4,2940.8 L490.4,2939.1 L491.5,2937.4 L492.6,2935.8 L493.9,2934.3 L495.3,2932.9 L496.9,2931.9 L498.6,2931.3 L500.5,2931.4 L502.3,2931.9 L504,2932.8 L505.6,2934 L507.2,2935.3 L508.6,2936.7 L509.9,2938.1 L511.2,2939.7 L512.3,2941.3 L513.3,2943 L514.3,2944.8 L515.1,2946.6 L515.9,2948.5 L516.6,2950.3 L517.3,2952.2 L518,2954.1 L518.7,2956 L519.4,2957.8 L520.1,2959.7 L520.9,2961.5 L521.7,2963.4 L522.5,2965.2 L523.4,2967 L524.2,2968.8 L525.1,2970.6 L525.9,2972.4 L526.8,2974.2 L527.7,2976 L528.6,2977.8 L529.5,2979.6 L530.4,2981.4 L531.3,2983.2 L532.2,2984.9 L533.1,2986.7 L534,2988.5 L535,2990.2 L536,2992 L536.9,2993.7 L537.9,2995.5 L538.9,2997.2 L540,2998.9 L541,3000.6 L542,3002.3 L543.1,3004 L544.1,3005.7 L545.2,3007.4 L546.2,3009.1 L547.3,3010.9 L548.3,3012.6 L549.4,3014.3 L550.4,3016 L551.4,3017.7 L552.4,3019.4 L553.4,3021.2 L554.4,3022.9 L555.4,3024.7 L556.3,3026.4 L557.3,3028.2 L558.3,3029.9 L559.2,3031.7 L560.2,3033.4 L561.2,3035.2 L562.1,3036.9 L563.1,3038.7 L564.1,3040.4 L565,3042.2 L566,3043.9 L566.9,3045.7 L567.9,3047.4 L568.8,3049.2 L569.8,3051 L570.7,3052.8 L571.6,3054.5 L572.6,3056.3 L573.5,3058 L574.5,3059.8 L575.5,3061.5 L576.5,3063.3 L577.5,3065 L578.6,3066.7 L579.7,3068.3 L580.8,3070 L582.1,3071.5 L583.5,3072.7 L585.1,3073.3 L586.9,3073.2 L588.6,3072.5 L590.2,3071.4 L591.8,3070.1 L593.2,3068.7 L594.5,3067.2 L595.7,3065.6 L596.8,3064 L597.8,3062.3 L598.7,3060.5 L599.5,3058.7 L600.3,3056.8 L601,3054.9 L601.6,3053 L602.3,3051.2 L602.9,3049.2 L603.4,3047.3 L604,3045.4 L604.6,3043.5 L605.1,3041.6 L605.6,3039.6 L606.1,3037.7 L606.6,3035.8 L607.1,3033.8 L607.7,3031.9 L608.2,3030 L608.7,3028 L609.2,3026.1 L609.7,3024.2 L610.2,3022.2 L610.7,3020.3 L611.2,3018.4 L611.7,3016.4 L612.2,3014.5 L612.7,3012.5 L613.1,3010.6 L613.6,3008.6 L614,3006.7 L614.4,3004.7 L614.9,3002.8 L615.3,3000.8 L615.7,2998.9 L616.1,2996.9 L616.5,2994.9 L616.9,2993 L617.3,2991 L617.7,2989.1 L618.1,2987.1 L618.5,2985.2 L618.9,2983.2 L619.3,2981.2 L619.7,2979.3 L620.2,2977.3 L620.6,2975.4 L621,2973.4 L621.4,2971.4 L621.8,2969.5 L622.1,2967.5 L622.5,2965.5 L622.9,2963.6 L623.2,2961.6 L623.6,2959.6 L624,2957.7 L624.3,2955.7 L624.7,2953.7 L625,2951.8 L625.4,2949.8 L625.7,2947.8 L626.1,2945.9 L626.5,2943.9 L626.8,2941.9 L627.2,2940 L627.6,2938 L628,2936 L628.4,2934.1 L628.8,2932.1 L629.2,2930.2 L629.6,2928.2 L630,2926.3 L630.5,2924.3 L631,2922.4 L631.4,2920.4 L631.9,2918.5 L632.5,2916.6 L633,2914.6 L633.5,2912.7 L634,2910.8 L634.5,2908.8 L635.1,2906.9 L635.6,2905 L636.2,2903.1 L636.8,2901.2 L637.4,2899.3 L638,2897.4 L638.7,2895.5 L639.4,2893.6 L640.2,2891.8 L641,2889.9 L641.9,2888.2 L642.9,2886.4 L643.9,2884.7 L644.9,2883 L646,2881.3 L647.1,2879.7 L648.4,2878.1 L649.9,2876.9 L651.5,2876 L653.2,2875.7 L655,2876.1 L656.6,2877.1 L658,2878.4 L659.4,2879.8 L660.6,2881.4 L661.8,2883 L662.9,2884.7 L663.9,2886.4 L665,2888.1 L666,2889.8 L666.9,2891.6 L667.8,2893.4 L668.6,2895.2 L669.4,2897.1 L670.1,2898.9 L670.7,2900.8 L671.3,2902.7 L671.9,2904.6 L672.5,2906.6 L673,2908.5 L673.6,2910.4 L674.1,2912.3 L674.6,2914.3 L675.2,2916.2 L675.8,2918.1 L676.3,2920 L677,2921.9 L677.6,2923.8 L678.2,2925.7 L678.8,2927.6 L679.4,2929.5 L680,2931.4 L680.6,2933.3 L681.2,2935.2 L681.8,2937.2 L682.5,2939.1 L683.1,2941 L683.7,2942.8 L684.4,2944.7 L685.1,2946.6 L685.9,2948.4 L686.7,2950.3 L687.6,2952.1 L688.6,2953.8 L689.5,2955.6 L690.6,2957.3 L691.6,2959 L692.7,2960.6 L693.9,2962.3 L695.1,2963.8 L696.4,2965.3 L697.8,2966.8 L699.3,2968.1 L700.9,2969.3 L702.6,2970.2 L704.4,2971 L706.3,2971.5 L708.3,2971.8 L710.3,2971.9 L712.3,2972 L714.3,2972.1 L716.3,2972.2 L718.3,2972.5 L720.2,2972.9 L722.1,2973.5 L723.9,2974.3 L725.7,2975.2 L727.4,2976.2 L729.1,2977.3 L730.7,2978.4 L732.3,2979.6 L733.9,2980.8 L735.5,2982.1 L737,2983.3 L738.6,2984.6 L740.1,2985.9 L741.5,2987.3 L743,2988.7 L744.4,2990.1 L745.8,2991.5 L747.2,2993 L748.6,2994.4 L749.9,2995.9 L751.3,2997.3 L752.7,2998.8 L754,3000.2 L755.4,3001.7 L756.9,3003.1 L758.3,3004.5 L759.7,3005.9 L761.2,3007.2 L762.6,3008.7 L764,3010.1 L765.4,3011.5 L766.8,3013 L768.2,3014.4 L769.6,3015.8 L771,3017.2 L772.4,3018.6 L773.9,3019.9 L775.5,3021.1 L777.2,3022.2 L779,3023 L780.8,3023.4 L782.7,3023.3 L784.5,3022.7 L786.1,3021.7 L787.6,3020.5 L789,3019 L790.2,3017.5 L791.4,3015.8 L792.5,3014.2 L793.5,3012.4 L794.5,3010.7 L795.5,3009 L796.4,3007.2 L797.2,3005.4 L798,3003.5 L798.7,3001.6 L799.3,2999.7 L799.9,2997.8 L800.5,2995.9 L801,2994 L801.5,2992.1 L802,2990.1 L802.5,2988.2 L803,2986.2 L803.4,2984.3 L803.9,2982.3 L804.3,2980.4 L804.8,2978.4 L805.2,2976.5 L805.6,2974.5 L806.1,2972.6 L806.5,2970.6 L807,2968.7 L807.4,2966.7 L807.9,2964.8 L808.4,2962.8 L808.9,2960.9 L809.4,2959 L809.9,2957.1 L810.4,2955.1 L810.9,2953.2 L811.4,2951.2 L811.9,2949.3 L812.4,2947.4 L812.9,2945.4 L813.4,2943.5 L813.9,2941.5 L814.4,2939.6 L814.9,2937.7 L815.4,2935.7 L815.9,2933.8 L816.4,2931.9 L817,2930 L817.6,2928.1 L818.3,2926.2 L818.9,2924.3 L819.7,2922.4 L820.5,2920.6 L821.3,2918.8 L822.1,2917 L823,2915.2 L824,2913.4 L825.1,2911.8 L826.3,2910.4 L827.8,2909.5 L829.5,2909.3 L831.2,2909.9 L832.7,2911 L834.1,2912.4 L835.3,2914 L836.5,2915.6 L837.6,2917.3 L838.6,2919 L839.5,2920.8 L840.3,2922.6 L841,2924.5 L841.6,2926.4 L842.2,2928.3 L842.6,2930.2 L843.1,2932.2 L843.5,2934.2 L843.8,2936.1 L844.2,2938.1 L844.5,2940.1 L844.8,2942.1 L845,2944 L845.3,2946 L845.6,2948 L845.8,2950 L846.1,2952 L846.3,2954 L846.6,2955.9 L846.8,2957.9 L847.1,2959.9 L847.4,2961.9 L847.7,2963.9 L848,2965.8 L848.3,2967.8 L848.5,2969.8 L848.8,2971.8 L849.1,2973.8 L849.4,2975.7 L849.6,2977.7 L849.9,2979.7 L850.2,2981.7 L850.4,2983.7 L850.6,2985.7 L850.9,2987.6 L851.1,2989.6 L851.4,2991.6 L851.6,2993.6 L851.8,2995.6 L852.1,2997.6 L852.3,2999.6 L852.5,3001.6 L852.7,3003.5 L853,3005.5 L853.2,3007.5 L853.4,3009.5 L853.7,3011.5 L853.9,3013.5 L854.1,3015.5 L854.4,3017.4 L854.6,3019.4 L854.8,3021.4 L855.1,3023.4 L855.3,3025.4 L855.5,3027.4 L855.7,3029.4 L855.9,3031.4 L856.2,3033.4 L856.4,3035.3 L856.6,3037.3 L856.8,3039.3 L857,3041.3 L857.3,3043.3 L857.5,3045.3 L857.7,3047.3 L857.9,3049.3 L858.1,3051.2 L858.3,3053.2 L858.5,3055.2 L858.7,3057.2 L858.9,3059.2 L859.1,3061.2 L859.3,3063.2 L859.5,3065.2 L859.7,3067.2 L859.9,3069.2 L860.1,3071.1 L860.3,3073.1 L860.5,3075.1 L860.7,3077.1 L860.9,3079.1 L861.1,3081.1 L861.3,3083.1 L861.5,3085.1 L861.7,3087.1 L861.9,3089.1 L862.1,3091.1 L862.3,3093 L862.5,3095 L862.7,3097 L862.9,3099 L863.1,3101 L863.3,3103 L863.5,3105 L863.7,3107 L864,3109 L864.2,3110.9 L864.4,3112.9 L864.6,3114.9 L864.8,3116.9 L865,3118.9 L865.2,3120.9 L865.5,3122.9 L865.7,3124.9 L865.9,3126.9 L866.1,3128.8 L866.4,3130.8 L866.6,3132.8 L866.9,3134.8 L867.1,3136.8 L867.3,3138.8 L867.6,3140.8 L867.9,3142.7 L868.1,3144.7 L868.4,3146.7 L868.6,3148.7 L868.9,3150.7 L869.2,3152.7 L869.4,3154.6 L869.7,3156.6 L870,3158.6 L870.3,3160.6 L870.6,3162.6 L870.9,3164.5 L871.2,3166.5 L871.5,3168.5 L871.8,3170.5 L872.1,3172.4 L872.4,3174.4 L872.7,3176.4 L873,3178.4 L873.4,3180.3 L873.7,3182.3 L874,3184.3 L874.4,3186.3 L874.7,3188.2 L875,3190.2 L875.4,3192.2 L875.7,3194.1 L876.1,3196.1 L876.5,3198.1 L876.9,3200 L877.2,3202 L877.6,3204 L878.1,3205.9 L878.5,3207.9 L878.9,3209.8 L879.4,3211.8 L879.8,3213.7 L880.3,3215.7 L880.8,3217.6 L881.2,3219.5 L881.7,3221.5 L882.2,3223.4 L882.7,3225.4 L883.3,3227.3 L883.8,3229.2 L884.3,3231.1 L884.9,3233.1 L885.4,3235 L886,3236.9 L886.5,3238.8 L887.1,3240.8 L887.7,3242.7 L888.2,3244.6 L888.8,3246.5 L889.4,3248.4 L890,3250.3 L890.7,3252.2 L891.4,3254.1 L892.1,3255.9 L892.9,3257.8 L893.7,3259.6 L894.5,3261.4 L895.4,3263.2 L896.3,3265 L897.3,3266.7 L898.4,3268.2 L899.9,3269.2 L901.4,3269.3 L903,3268.7 L904.4,3267.5 L905.7,3266 L906.8,3264.3 L907.9,3262.6 L908.9,3260.9 L909.8,3259.1 L910.7,3257.3 L911.6,3255.5 L912.4,3253.7 L913.2,3251.9 L914,3250.1 L914.8,3248.2 L915.6,3246.4 L916.3,3244.5 L917,3242.6 L917.6,3240.8 L918.2,3238.8 L918.8,3236.9 L919.4,3235 L919.9,3233.1 L920.4,3231.1 L920.8,3229.2 L921.3,3227.2 L921.7,3225.3 L922.1,3223.3 L922.5,3221.4 L922.9,3219.4 L923.3,3217.5 L923.7,3215.5 L924.1,3213.5 L924.4,3211.6 L924.8,3209.6 L925.1,3207.6 L925.5,3205.7 L925.8,3203.7 L926.2,3201.7 L926.5,3199.7 L926.9,3197.8 L927.2,3195.8 L927.6,3193.8 L927.9,3191.9 L928.3,3189.9 L928.6,3187.9 L929,3186 L929.4,3184 L929.8,3182 L930.2,3180.1 L930.5,3178.1 L930.9,3176.1 L931.3,3174.2 L931.7,3172.2 L932,3170.2 L932.4,3168.3 L932.8,3166.3 L933.1,3164.3 L933.5,3162.4 L933.8,3160.4 L934.2,3158.4 L934.5,3156.5 L934.9,3154.5 L935.2,3152.5 L935.6,3150.6 L935.9,3148.6 L936.3,3146.6 L936.6,3144.7 L937,3142.7 L937.3,3140.7 L937.6,3138.7 L938,3136.8 L938.3,3134.8 L938.6,3132.8 L939,3130.9 L939.3,3128.9 L939.7,3126.9 L940,3124.9 L940.3,3123 L940.7,3121 L941,3119 L941.3,3117 L941.7,3115.1 L942,3113.1 L942.3,3111.1 L942.7,3109.2 L943,3107.2 L943.4,3105.2 L943.7,3103.2 L944,3101.3 L944.4,3099.3 L944.7,3097.3 L945.1,3095.4 L945.4,3093.4 L945.7,3091.4 L946.1,3089.4 L946.4,3087.5 L946.7,3085.5 L947.1,3083.5 L947.4,3081.6 L947.7,3079.6 L948.1,3077.6 L948.4,3075.6 L948.7,3073.7 L949.1,3071.7 L949.4,3069.7 L949.7,3067.8 L950.1,3065.8 L950.4,3063.8 L950.7,3061.8 L951,3059.9 L951.4,3057.9 L951.7,3055.9 L952,3053.9 L952.4,3052 L952.7,3050 L953,3048 L953.4,3046.1 L953.7,3044.1 L954,3042.1 L954.3,3040.1 L954.7,3038.2 L955,3036.2 L955.3,3034.2 L955.6,3032.2 L955.9,3030.3 L956.2,3028.3 L956.5,3026.3 L956.9,3024.3 L957.2,3022.4 L957.5,3020.4 L957.7,3018.4 L958,3016.4 L958.3,3014.4 L958.6,3012.5 L958.9,3010.5 L959.2,3008.5 L959.5,3006.5 L959.9,3004.6 L960.2,3002.6 L960.5,3000.6 L960.8,2998.6 L961.1,2996.6 L961.4,2994.7 L961.8,2992.7 L962.1,2990.7 L962.4,2988.8 L962.8,2986.8 L963.2,2984.8 L963.5,2982.9 L963.9,2980.9 L964.3,2978.9 L964.7,2977 L965.1,2975 L965.6,2973.1 L966,2971.1 L966.5,2969.2 L966.9,2967.2 L967.3,2965.3 L967.8,2963.3 L968.3,2961.4 L968.7,2959.4 L969.2,2957.5 L969.7,2955.6 L970.2,2953.6 L970.7,2951.7 L971.3,2949.8 L971.9,2947.8 L972.5,2945.9 L973.1,2944 L973.7,2942.1 L974.4,2940.3 L975.1,2938.4 L975.9,2936.6 L976.7,2934.7 L977.5,2932.9 L978.4,2931.1 L979.3,2929.3 L980.2,2927.5 L981.1,2925.8 L982.2,2924.1 L983.4,2922.5 L984.7,2921.1 L986.3,2919.9 L988,2919.2 L989.9,2918.9 L991.8,2919 L993.8,2919.5 L995.7,2920 L997.6,2920.6 L999.5,2921.1 L1001.4,2921.4 L1003.4,2921.3 L1005.2,2920.9 L1007,2920.1 L1008.7,2919.1 L1010.3,2917.8 L1011.8,2916.5 L1013.2,2915.1 L1014.5,2913.6 L1015.7,2912 L1016.9,2910.4 L1017.9,2908.7 L1018.9,2907 L1019.8,2905.2 L1020.7,2903.4 L1021.6,2901.6 L1022.5,2899.8 L1023.3,2898 L1024.2,2896.2 L1025.1,2894.4 L1026.1,2892.7 L1027.1,2891 L1028.2,2889.3 L1029.4,2887.7 L1030.6,2886 L1031.8,2884.4 L1033,2882.9 L1034.2,2881.3 L1035.6,2879.8 L1036.9,2878.4 L1038.5,2877.1 L1040.1,2876.1 L1041.9,2875.6 L1043.7,2875.6 L1045.6,2876.1 L1047.3,2877.1 L1048.8,2878.3 L1050.3,2879.7 L1051.6,2881.1 L1052.8,2882.7 L1053.9,2884.4 L1054.9,2886.1 L1055.7,2887.9 L1056.5,2889.8 L1057.1,2891.6 L1057.7,2893.6 L1058.3,2895.5 L1058.8,2897.4 L1059.3,2899.3 L1059.8,2901.3 L1060.3,2903.2 L1060.8,2905.2 L1061.3,2907.1 L1061.8,2909 L1062.3,2911 L1062.8,2912.9 L1063.3,2914.8 L1063.8,2916.8 L1064.3,2918.7 L1064.7,2920.7 L1065.2,2922.6 L1065.6,2924.6 L1066.1,2926.5 L1066.5,2928.5 L1067,2930.4 L1067.4,2932.4 L1067.8,2934.3 L1068.2,2936.3 L1068.6,2938.2 L1069.1,2940.2 L1069.5,2942.1 L1069.9,2944.1 L1070.3,2946.1 L1070.7,2948 L1071.1,2950 L1071.6,2951.9 L1072,2953.9 L1072.4,2955.8 L1072.8,2957.8 L1073.2,2959.8 L1073.5,2961.7 L1073.9,2963.7 L1074.3,2965.7 L1074.7,2967.6 L1075.1,2969.6 L1075.5,2971.5 L1075.9,2973.5 L1076.2,2975.5 L1076.6,2977.4 L1077,2979.4 L1077.4,2981.4 L1077.7,2983.3 L1078.1,2985.3 L1078.5,2987.3 L1078.8,2989.2 L1079.2,2991.2 L1079.5,2993.2 L1079.9,2995.1 L1080.2,2997.1 L1080.5,2999.1 L1080.9,3001.1 L1081.2,3003 L1081.5,3005 L1081.9,3007 L1082.2,3008.9 L1082.5,3010.9 L1082.9,3012.9 L1083.2,3014.9 L1083.6,3016.8 L1083.9,3018.8 L1084.3,3020.8 L1084.6,3022.7 L1085,3024.7 L1085.4,3026.7 L1085.7,3028.6 L1086.1,3030.6 L1086.5,3032.6 L1086.9,3034.5 L1087.3,3036.5 L1087.7,3038.4 L1088.1,3040.4 L1088.5,3042.4 L1088.9,3044.3 L1089.3,3046.3 L1089.7,3048.2 L1090.1,3050.2 L1090.6,3052.1 L1091,3054.1 L1091.4,3056.1 L1091.8,3058 L1092.3,3060 L1092.7,3061.9 L1093.2,3063.9 L1093.6,3065.8 L1094.1,3067.8 L1094.5,3069.7 L1095,3071.7 L1095.5,3073.6 L1095.9,3075.5 L1096.4,3077.5 L1096.9,3079.4 L1097.4,3081.4 L1097.9,3083.3 L1098.4,3085.2 L1099,3087.2 L1099.5,3089.1 L1100,3091 L1100.6,3092.9 L1101.1,3094.8 L1101.7,3096.8 L1102.3,3098.7 L1102.9,3100.6 L1103.4,3102.5 L1104,3104.4 L1104.6,3106.3 L1105.2,3108.3 L1105.8,3110.2 L1106.3,3112.1 L1106.9,3114 L1107.5,3115.9 L1108.1,3117.8 L1108.7,3119.7 L1109.2,3121.7 L1109.8,3123.6 L1110.4,3125.5 L1110.9,3127.4 L1111.5,3129.3 L1112,3131.3 L1112.6,3133.2 L1113.1,3135.1 L1113.6,3137 L1114.2,3139 L1114.7,3140.9 L1115.3,3142.8 L1115.8,3144.7 L1116.3,3146.7 L1116.9,3148.6 L1117.4,3150.5 L1117.9,3152.5 L1118.5,3154.4 L1119,3156.3 L1119.5,3158.2 L1120.1,3160.2 L1120.6,3162.1 L1121.1,3164 L1121.7,3166 L1122.2,3167.9 L1122.7,3169.8 L1123.2,3171.7 L1123.8,3173.7 L1124.3,3175.6 L1124.8,3177.5 L1125.3,3179.5 L1125.9,3181.4 L1126.4,3183.3 L1126.9,3185.3 L1127.4,3187.2 L1127.9,3189.1 L1128.4,3191.1 L1128.9,3193 L1129.4,3194.9 L1129.9,3196.9 L1130.4,3198.8 L1130.9,3200.7 L1131.4,3202.7 L1131.9,3204.6 L1132.5,3206.5 L1133,3208.5 L1133.5,3210.4 L1134,3212.4 L1134.5,3214.3 L1135,3216.2 L1135.5,3218.2 L1136,3220.1 L1136.6,3222 L1137.1,3223.9 L1137.6,3225.9 L1138.1,3227.8 L1138.7,3229.7 L1139.2,3231.7 L1139.7,3233.6 L1140.2,3235.5 L1140.7,3237.5 L1141.2,3239.4 L1141.7,3241.4 L1142.1,3243.3 L1142.6,3245.2 L1143.1,3247.2 L1143.6,3249.1 L1144.1,3251.1 L1144.6,3253 L1145.1,3254.9 L1145.6,3256.9 L1146.1,3258.8 L1146.7,3260.7 L1147.2,3262.6 L1147.8,3264.5 L1148.4,3266.4 L1149.1,3268.3 L1149.8,3270.2 L1150.5,3272.1 L1151.3,3273.9 L1152.2,3275.7 L1153.1,3277.5 L1154,3279.3 L1154.9,3281 L1155.9,3282.8 L1156.9,3284.5 L1158,3286.2 L1159.1,3287.8 L1160.3,3289.4 L1161.7,3290.9 L1163.2,3292.1 L1164.9,3293.1 L1166.7,3293.8 L1168.6,3294 L1170.5,3293.9 L1172.4,3293.4 L1174.3,3292.8 L1176.2,3292.1 L1178,3291.3 L1179.9,3290.6 L1181.8,3289.9 L1183.6,3289.1 L1185.5,3288.4 L1187.3,3287.7 L1189.2,3286.9 L1191,3286.1 L1192.9,3285.5 L1194.8,3284.9 L1196.8,3284.4 L1198.7,3284.1 L1200.7,3283.9 L1202.7,3283.8 L1204.7,3283.8 L1206.7,3283.9 L1208.7,3284 L1210.7,3284.2 L1212.7,3284.4 L1214.7,3284.5 L1216.7,3284.7 L1218.7,3284.9 L1220.7,3285.1 L1222.6,3285.2 L1224.6,3285.4 L1226.6,3285.4 L1228.6,3285.5 L1230.6,3285.4 L1232.6,3285.4 L1234.6,3285.2 L1236.6,3285 L1238.6,3284.7 L1240.6,3284.3 L1242.5,3283.9 L1244.5,3283.5 L1246.4,3283 L1248.4,3282.5 L1250.3,3282 L1252.2,3281.5 L1254.2,3281 L1256.1,3280.5 L1258,3279.9 L1259.9,3279.4 L1261.9,3278.9 L1263.8,3278.4 L1265.8,3277.9 L1267.7,3277.5 L1269.7,3277.1 L1271.6,3276.7 L1273.6,3276.4 L1275.6,3276 L1277.5,3275.6 L1279.5,3275.2 L1281.5,3274.9 L1283.4,3274.5 L1285.4,3274.2 L1287.4,3273.9 L1289.4,3273.7 L1291.4,3273.5 L1293.4,3273.4 L1295.4,3273.3 L1297.3,3273.3 L1299.3,3273.4 L1301.3,3273.6 L1303.3,3273.8 L1305.3,3274.2 L1307.2,3274.6 L1309.2,3275.1 L1311.1,3275.6 L1313,3276.2 L1314.9,3276.8 L1316.8,3277.4 L1318.7,3278 L1320.7,3278.6 L1322.6,3279.2 L1324.5,3279.8 L1326.3,3280.5 L1328.2,3281.2 L1330.1,3281.9 L1331.9,3282.7 L1333.8,3283.5 L1335.6,3284.3 L1337.4,3285 L1339.3,3285.8 L1341.1,3286.5 L1343,3287.2 L1344.9,3287.9 L1346.8,3288.5 L1348.7,3289 L1350.7,3289.5 L1352.7,3289.8 L1354.6,3290 L1356.6,3290.2 L1358.6,3290.2 L1360.6,3290.1 L1362.6,3290 L1364.6,3289.7 L1366.6,3289.5 L1368.6,3289.1 L1370.5,3288.8 L1372.5,3288.4 L1374.4,3288 L1376.4,3287.6 L1378.4,3287.2 L1380.3,3286.8 L1382.3,3286.4 L1384.3,3286.1 L1386.2,3285.8 L1388.2,3285.6 L1390.2,3285.4 L1392.2,3285.2 L1394.2,3285.1 L1396.2,3285 L1398.2,3285 L1400.2,3284.9 L1402.2,3284.9 L1404.2,3284.9 L1406.2,3284.9 L1408.2,3285 L1410.2,3285.1 L1412.2,3285.2 L1414.2,3285.3 L1416.2,3285.5 L1418.2,3285.7 L1420.1,3286 L1422.1,3286.3 L1424.1,3286.7 L1426.1,3287 L1428,3287.4 L1430,3287.7" fill="none" stroke="#0400c0" stroke-width="10" stroke-linecap="round" stroke-linejoin="round"/>
<path d="M249.4,3675 L251.4,3675 L253.4,3674.9 L255.4,3674.9 L257.4,3674.9 L259.4,3674.9 L261.4,3674.8 L263.4,3674.8 L265.4,3674.8 L267.4,3674.7 L269.4,3674.7 L271.4,3674.7 L273.4,3674.7 L275.4,3674.6 L277.4,3674.6 L279.4,3674.6 L281.4,3674.6 L283.4,3674.5 L285.4,3674.5 L287.4,3674.5 L289.4,3674.5 L291.4,3674.4 L293.4,3674.4 L295.4,3674.4 L297.4,3674.4 L299.4,3674.3 L301.4,3674.3 L303.4,3674.3 L305.4,3674.3 L307.4,3674.2 L309.4,3674.2 L311.4,3674.2 L313.4,3674.2 L315.4,3674.1 L317.4,3674.1 L319.4,3674.1 L321.4,3674 L323.4,3674 L325.4,3674 L327.4,3673.9 L329.4,3673.9 L331.4,3673.9 L333.4,3673.8 L335.4,3673.8 L337.4,3673.8 L339.4,3673.7 L341.4,3673.7 L343.4,3673.6 L345.4,3673.6 L347.4,3673.6 L349.4,3673.5 L351.4,3673.5 L353.4,3673.4 L355.4,3673.4 L357.4,3673.3 L359.4,3673.3 L361.4,3673.2 L363.4,3673.2 L365.4,3673.1 L367.4,3673.1 L369.4,3673 L371.4,3672.9 L373.4,3672.9 L375.4,3672.8 L377.4,3672.7 L379.4,3672.7 L381.4,3672.6 L383.4,3672.5 L385.4,3672.4 L387.4,3672.4 L389.4,3672.3 L391.4,3672.2 L393.4,3672.1 L395.4,3672 L397.4,3672 L399.4,3671.9 L401.4,3671.8 L403.4,3671.7 L405.4,3671.6 L407.4,3671.5 L409.4,3671.4 L411.4,3671.4 L413.4,3671.3 L415.4,3671.2 L417.4,3671.1 L419.4,3671 L421.4,3670.9 L423.4,3670.8 L425.4,3670.8 L427.4,3670.7 L429.4,3670.6 L431.4,3670.5 L433.4,3670.4 L435.4,3670.4 L437.4,3670.3 L439.4,3670.2 L441.4,3670.1 L443.4,3670.1 L445.4,3670 L447.4,3669.9 L449.4,3669.9 L451.4,3669.8 L453.4,3669.8 L455.4,3669.7 L457.4,3669.6 L459.4,3669.6 L461.4,3669.6 L463.4,3669.5 L465.4,3669.5 L467.4,3669.4 L469.4,3669.4 L471.4,3669.4 L473.4,3669.4 L475.4,3669.3 L477.4,3669.3 L479.4,3669.3 L481.4,3669.3 L483.4,3669.4 L485.4,3669.4 L487.4,3669.4 L489.4,3669.4 L491.4,3669.5 L493.4,3669.5 L495.4,3669.6 L497.4,3669.6 L499.4,3669.7 L501.4,3669.7 L503.4,3669.8 L505.4,3669.9 L507.4,3669.9 L509.4,3670 L511.4,3670.1 L513.4,3670.2 L515.4,3670.3 L517.4,3670.4 L519.4,3670.5 L521.4,3670.6 L523.4,3670.6 L525.4,3670.7 L527.4,3670.8 L529.4,3670.9 L531.4,3671 L533.4,3671.1 L535.4,3671.2 L537.4,3671.2 L539.4,3671.3 L541.4,3671.4 L543.4,3671.4 L545.4,3671.5 L547.4,3671.5 L549.4,3671.6 L551.4,3671.6 L553.4,3671.6 L555.4,3671.6 L557.4,3671.7 L559.4,3671.7 L561.4,3671.7 L563.4,3671.7 L565.4,3671.7 L567.4,3671.6 L569.4,3671.6 L571.4,3671.6 L573.4,3671.6 L575.4,3671.5 L577.4,3671.5 L579.4,3671.5 L581.4,3671.4 L583.4,3671.4 L585.4,3671.3 L587.4,3671.3 L589.4,3671.2 L591.4,3671.2 L593.4,3671.1 L595.4,3671.1 L597.4,3671 L599.4,3670.9 L601.4,3670.9 L603.4,3670.8 L605.4,3670.7 L607.4,3670.7 L609.4,3670.6 L611.4,3670.5 L613.4,3670.4 L615.4,3670.3 L617.4,3670.3 L619.4,3670.2 L621.4,3670.1 L623.4,3670 L625.4,3669.9 L627.4,3669.8 L629.4,3669.7 L631.4,3669.6 L633.4,3669.5 L635.4,3669.4 L637.4,3669.3 L639.4,3669.2 L641.4,3669.1 L643.4,3669 L645.4,3668.9 L647.4,3668.8 L649.4,3668.7 L651.4,3668.5 L653.4,3668.4 L655.4,3668.3 L657.3,3668.1 L659.3,3668 L661.3,3667.9 L663.3,3667.7 L665.3,3667.6 L667.3,3667.4 L669.3,3667.3 L671.3,3667.1 L673.3,3667 L675.3,3666.8 L677.3,3666.7 L679.3,3666.5 L681.3,3666.4 L683.3,3666.2 L685.3,3666.1 L687.3,3665.9 L689.3,3665.8 L691.3,3665.6 L693.3,3665.5 L695.3,3665.4 L697.3,3665.2 L699.3,3665.1 L701.2,3665 L703.2,3664.8 L705.2,3664.7 L707.2,3664.6 L709.2,3664.5 L711.2,3664.4 L713.2,3664.3 L715.2,3664.2 L717.2,3664.1 L719.2,3664 L721.2,3663.9 L723.2,3663.8 L725.2,3663.7 L727.2,3663.6 L729.2,3663.6 L731.2,3663.5 L733.2,3663.4 L735.2,3663.4 L737.2,3663.3 L739.2,3663.2 L741.2,3663.2 L743.2,3663.1 L745.2,3663.1 L747.2,3663 L749.2,3663 L751.2,3662.9 L753.2,3662.9 L755.2,3662.8 L757.2,3662.8 L759.2,3662.8 L761.2,3662.7 L763.2,3662.7 L765.2,3662.6 L767.2,3662.6 L769.2,3662.6 L771.2,3662.5 L773.2,3662.5 L775.2,3662.5 L777.2,3662.5 L779.2,3662.4 L781.2,3662.4 L783.2,3662.4 L785.2,3662.3 L787.2,3662.3 L789.2,3662.3 L791.2,3662.3 L793.2,3662.3 L795.2,3662.2 L797.2,3662.2 L799.2,3662.2 L801.2,3662.2 L803.2,3662.2 L805.2,3662.1 L807.2,3662.1 L809.2,3662.1 L811.2,3662.1 L813.2,3662.1 L815.2,3662.1 L817.2,3662 L819.2,3662 L821.2,3662 L823.2,3662 L825.2,3662 L827.2,3662 L829.2,3662 L831.2,3662 L833.2,3662 L835.2,3662 L837.2,3662 L839.2,3662 L841.2,3662 L843.3,3662 L845.3,3662 L847.3,3662 L849.3,3662 L851.3,3662 L853.3,3662 L855.3,3662 L857.3,3662.1 L859.3,3662.1 L861.3,3662.1 L863.3,3662.1 L865.3,3662.1 L867.3,3662.1 L869.3,3662.1 L871.3,3662.2 L873.3,3662.2 L875.3,3662.2 L877.3,3662.2 L879.3,3662.2 L881.3,3662.3 L883.3,3662.3 L885.3,3662.3 L887.3,3662.3 L889.3,3662.4 L891.3,3662.4 L893.3,3662.4 L895.3,3662.5 L897.3,3662.5 L899.3,3662.6 L901.3,3662.6 L903.3,3662.6 L905.3,3662.7 L907.3,3662.7 L909.3,3662.8 L911.3,3662.8 L913.3,3662.9 L915.3,3662.9 L917.3,3663 L919.3,3663 L921.3,3663 L923.3,3663.1 L925.3,3663.1 L927.3,3663.2 L929.3,3663.2 L931.3,3663.3 L933.3,3663.3 L935.3,3663.3 L937.3,3663.4 L939.3,3663.4 L941.3,3663.5 L943.3,3663.5 L945.3,3663.5 L947.3,3663.6 L949.3,3663.6 L951.3,3663.6 L953.3,3663.6 L955.3,3663.7 L957.3,3663.7 L959.3,3663.7 L961.3,3663.7 L963.3,3663.7 L965.3,3663.8 L967.3,3663.8 L969.3,3663.8 L971.3,3663.8 L973.3,3663.8 L975.3,3663.8 L977.3,3663.8 L979.3,3663.8 L981.3,3663.9 L983.3,3663.9 L985.3,3663.9 L987.3,3663.9 L989.3,3663.9 L991.3,3663.9 L993.3,3663.9 L995.3,3663.9 L997.3,3663.9 L999.3,3663.9 L1001.3,3663.9 L1003.3,3663.9 L1005.3,3663.9 L1007.3,3663.9 L1009.3,3663.9 L1011.3,3663.9 L1013.3,3663.9 L1015.3,3663.8 L1017.3,3663.8 L1019.3,3663.8 L1021.3,3663.8 L1023.3,3663.8 L1025.3,3663.8 L1027.3,3663.8 L1029.3,3663.8 L1031.3,3663.7 L1033.3,3663.7 L1035.3,3663.7 L1037.3,3663.7 L1039.3,3663.7 L1041.3,3663.6 L1043.3,3663.6 L1045.3,3663.6 L1047.3,3663.5 L1049.3,3663.5 L1051.3,3663.5 L1053.3,3663.4 L1055.3,3663.4 L1057.3,3663.3 L1059.3,3663.3 L1061.3,3663.3 L1063.3,3663.2 L1065.3,3663.2 L1067.3,3663.1 L1069.3,3663.1 L1071.3,3663 L1073.3,3663 L1075.3,3662.9 L1077.3,3662.9 L1079.3,3662.8 L1081.3,3662.8 L1083.3,3662.7 L1085.3,3662.7 L1087.3,3662.6 L1089.3,3662.6 L1091.3,3662.5 L1093.3,3662.5 L1095.3,3662.5 L1097.3,3662.4 L1099.3,3662.4 L1101.3,3662.4 L1103.3,3662.3 L1105.3,3662.3 L1107.3,3662.3 L1109.3,3662.3 L1111.3,3662.2 L1113.3,3662.2 L1115.3,3662.2 L1117.3,3662.2 L1119.3,3662.2 L1121.3,3662.2 L1123.3,3662.2 L1125.3,3662.2 L1127.3,3662.2 L1129.3,3662.2 L1131.3,3662.2 L1133.3,3662.3 L1135.3,3662.3 L1137.3,3662.3 L1139.3,3662.3 L1141.3,3662.3 L1143.3,3662.4 L1145.3,3662.4 L1147.3,3662.4 L1149.3,3662.4 L1151.3,3662.5 L1153.3,3662.5 L1155.3,3662.5 L1157.3,3662.6 L1159.3,3662.6 L1161.3,3662.6 L1163.3,3662.7 L1165.3,3662.7 L1167.3,3662.7 L1169.3,3662.8 L1171.3,3662.8 L1173.3,3662.9 L1175.3,3662.9 L1177.3,3663 L1179.3,3663 L1181.3,3663.1 L1183.3,3663.1 L1185.3,3663.2 L1187.3,3663.2 L1189.3,3663.3 L1191.3,3663.4 L1193.3,3663.4 L1195.3,3663.5 L1197.3,3663.6 L1199.3,3663.7 L1201.3,3663.8 L1203.3,3663.8 L1205.3,3663.9 L1207.3,3664 L1209.3,3664.2 L1211.3,3664.3 L1213.3,3664.4 L1215.3,3664.5 L1217.3,3664.6 L1219.3,3664.7 L1221.3,3664.9 L1223.3,3665 L1225.3,3665.1 L1227.3,3665.2 L1229.3,3665.3 L1231.3,3665.4 L1233.3,3665.5 L1235.3,3665.6 L1237.3,3665.7 L1239.3,3665.7 L1241.3,3665.8 L1243.3,3665.9 L1245.3,3665.9 L1247.3,3666 L1249.3,3666 L1251.3,3666 L1253.3,3666.1 L1255.3,3666.1 L1257.3,3666.1 L1259.3,3666.1 L1261.3,3666.1 L1263.3,3666.1 L1265.3,3666.1 L1267.3,3666 L1269.3,3666 L1271.3,3666 L1273.3,3665.9 L1275.3,3665.8 L1277.3,3665.7 L1279.3,3665.6 L1281.3,3665.5 L1283.3,3665.4 L1285.3,3665.3 L1287.3,3665.2 L1289.3,3665 L1291.3,3664.9 L1293.3,3664.7 L1295.3,3664.5 L1297.3,3664.3 L1299.2,3664.1 L1301.2,3663.9 L1303.2,3663.7 L1305.2,3663.4 L1307.2,3663.1 L1309.1,3662.8 L1311.1,3662.5 L1313.1,3662.1 L1315.1,3661.8 L1317,3661.4 L1319,3660.9 L1320.9,3660.5 L1322.9,3660 L1324.8,3659.5 L1326.7,3659 L1328.6,3658.5 L1330.6,3657.9 L1332.5,3657.3 L1334.4,3656.7 L1336.3,3656.1 L1338.2,3655.4 L1340.1,3654.8 L1341.9,3654.1 L1343.8,3653.4 L1345.7,3652.7 L1347.6,3652 L1349.4,3651.3 L1351.3,3650.5 L1353.1,3649.7 L1355,3648.9 L1356.8,3648.1 L1358.6,3647.3 L1360.4,3646.5 L1362.2,3645.6 L1364,3644.7 L1365.8,3643.8 L1367.6,3642.9 L1369.3,3641.9 L1371.1,3641 L1372.8,3640 L1374.5,3639 L1376.2,3637.9 L1377.9,3636.9 L1379.6,3635.8 L1381.3,3634.7 L1383,3633.6 L1384.6,3632.5 L1386.3,3631.4 L1387.9,3630.2 L1389.6,3629.1 L1391.2,3627.9 L1392.8,3626.7 L1394.4,3625.5 L1396,3624.3 L1397.5,3623.1 L1399.1,3621.8 L1400.7,3620.5 L1402.2,3619.3 L1403.7,3618 L1405.3,3616.7 L1406.8,3615.4 L1408.3,3614 L1409.7,3612.7 L1411.2,3611.4 L1412.7,3610 L1414.2,3608.6 L1415.6,3607.3 L1417.1,3605.9 L1418.5,3604.5 L1420,3603.2 L1421.4,3601.8 L1422.9,3600.4 L1424.3,3599 L1425.7,3597.6 L1427.2,3596.2 L1428.6,3594.8 L1430,3593.4 L1431.5,3592 L1432.9,3590.6 L1434.3,3589.2 L1435.7,3587.7 L1437.1,3586.3 L1438.5,3584.9 L1439.9,3583.5 L1441.3,3582.1 L1442.7,3580.6 L1444.1,3579.2 L1445.5,3577.8 L1447,3576.4 L1448.4,3574.9 L1449.8,3573.5 L1451.2,3572.1 L1452.6,3570.7 L1454,3569.3 L1455.4,3567.9 L1456.8,3566.4 L1458.2,3565 L1459.7,3563.6 L1461.1,3562.2 L1462.5,3560.8 L1463.9,3559.3 L1465.3,3557.9 L1466.7,3556.5 L1468.1,3555.1 L1469.5,3553.7 L1471,3552.3 L1472.4,3550.9 L1473.8,3549.4 L1475.2,3548 L1476.6,3546.6 L1478.1,3545.2 L1479.5,3543.8 L1480.9,3542.4 L1482.3,3541 L1483.8,3539.6 L1485.2,3538.2 L1486.6,3536.8 L1488,3535.4 L1489.4,3534 L1490.8,3532.5 L1492.3,3531.1 L1493.7,3529.7 L1495,3528.3 L1496.4,3526.8 L1497.8,3525.4 L1499.2,3523.9 L1500.6,3522.5 L1501.9,3521 L1503.3,3519.5 L1504.6,3518.1 L1506,3516.6 L1507.3,3515.1 L1508.7,3513.6 L1510,3512.1 L1511.4,3510.6 L1512.7,3509.2 L1514,3507.7 L1515.4,3506.2 L1516.7,3504.7 L1518,3503.2 L1519.4,3501.7 L1520.7,3500.2 L1522.1,3498.8 L1523.4,3497.3 L1524.8,3495.8 L1526.1,3494.3 L1527.5,3492.9 L1528.9,3491.4 L1530.2,3489.9 L1531.6,3488.5 L1532.9,3487 L1534.3,3485.5 L1535.6,3484 L1537,3482.6 L1538.3,3481.1 L1539.7,3479.6 L1541,3478.1 L1542.3,3476.6 L1543.6,3475.1 L1544.9,3473.6 L1546.2,3472 L1547.5,3470.5 L1548.8,3468.9 L1550,3467.4 L1551.3,3465.8 L1552.5,3464.3 L1553.7,3462.7 L1555,3461.1 L1556.2,3459.5 L1557.4,3457.9 L1558.6,3456.3 L1559.8,3454.7 L1561,3453.1 L1562.2,3451.5 L1563.3,3449.9 L1564.5,3448.3 L1565.7,3446.6 L1566.8,3445 L1568,3443.4 L1569.1,3441.7 L1570.3,3440.1 L1571.4,3438.4 L1572.5,3436.8 L1573.7,3435.1 L1574.8,3433.5 L1575.9,3431.8 L1577,3430.1 L1578.1,3428.5 L1579.2,3426.8 L1580.3,3425.1 L1581.3,3423.4 L1582.4,3421.7 L1583.5,3420 L1584.5,3418.3 L1585.6,3416.6 L1586.6,3414.9 L1587.6,3413.2 L1588.6,3411.5 L1589.6,3409.7 L1590.7,3408 L1591.6,3406.3 L1592.6,3404.5 L1593.6,3402.8 L1594.6,3401 L1595.5,3399.3 L1596.5,3397.5 L1597.4,3395.8 L1598.4,3394 L1599.3,3392.2 L1600.2,3390.4 L1601.1,3388.7 L1602,3386.9 L1602.9,3385.1 L1603.8,3383.3 L1604.7,3381.5 L1605.5,3379.7 L1606.4,3377.9 L1607.2,3376.1 L1608.1,3374.3 L1608.9,3372.4 L1609.8,3370.6 L1610.6,3368.8 L1611.4,3367 L1612.2,3365.1 L1613,3363.3 L1613.8,3361.5 L1614.6,3359.6 L1615.4,3357.8 L1616.2,3356 L1617,3354.1 L1617.7,3352.3 L1618.5,3350.4 L1619.2,3348.6 L1620,3346.7 L1620.7,3344.9 L1621.5,3343 L1622.2,3341.1 L1622.9,3339.3 L1623.7,3337.4 L1624.4,3335.5 L1625.1,3333.7 L1625.8,3331.8 L1626.5,3329.9 L1627.2,3328 L1627.9,3326.2 L1628.5,3324.3 L1629.2,3322.4 L1629.9,3320.5 L1630.6,3318.6 L1631.2,3316.7 L1631.9,3314.8 L1632.5,3313 L1633.2,3311.1 L1633.8,3309.2 L1634.5,3307.3 L1635.1,3305.4 L1635.8,3303.5 L1636.5,3301.6 L1637.1,3299.7 L1637.8,3297.8 L1638.4,3295.9 L1639.1,3294.1 L1639.7,3292.2 L1640.4,3290.3 L1641.1,3288.4 L1641.7,3286.5 L1642.4,3284.6 L1643,3282.7 L1643.7,3280.8 L1644.4,3278.9 L1645,3277.1 L1645.7,3275.2 L1646.4,3273.3 L1647,3271.4 L1647.7,3269.5 L1648.3,3267.6 L1649,3265.7 L1649.7,3263.8 L1650.3,3261.9 L1651,3260.1 L1651.6,3258.2 L1652.3,3256.3 L1653,3254.4 L1653.6,3252.5 L1654.3,3250.6 L1654.9,3248.7 L1655.6,3246.8 L1656.3,3245 L1656.9,3243.1 L1657.6,3241.2 L1658.2,3239.3 L1658.9,3237.4 L1659.6,3235.5 L1660.2,3233.6 L1660.9,3231.7 L1661.5,3229.8 L1662.2,3228 L1662.9,3226.1 L1663.5,3224.2 L1664.2,3222.3 L1664.8,3220.4 L1665.5,3218.5 L1666.2,3216.6 L1666.8,3214.7 L1667.5,3212.8 L1668.1,3211 L1668.8,3209.1 L1669.5,3207.2 L1670.1,3205.3 L1670.8,3203.4 L1671.5,3201.5 L1672.1,3199.6 L1672.8,3197.7 L1673.5,3195.9 L1674.1,3194 L1674.8,3192.1 L1675.5,3190.2 L1676.1,3188.3 L1676.8,3186.4 L1677.5,3184.5 L1678.2,3182.7 L1678.8,3180.8 L1679.5,3178.9 L1680.2,3177 L1680.9,3175.1 L1681.5,3173.2 L1682.2,3171.4 L1682.9,3169.5 L1683.5,3167.6 L1684.2,3165.7 L1684.9,3163.8 L1685.6,3161.9 L1686.2,3160 L1686.9,3158.2 L1687.6,3156.3 L1688.2,3154.4 L1688.9,3152.5 L1689.6,3150.6 L1690.2,3148.7 L1690.9,3146.8 L1691.6,3145 L1692.2,3143.1 L1692.9,3141.2 L1693.6,3139.3 L1694.2,3137.4 L1694.9,3135.5 L1695.5,3133.6 L1696.2,3131.7 L1696.9,3129.9 L1697.5,3128 L1698.2,3126.1 L1698.9,3124.2 L1699.5,3122.3 L1700.2,3120.4 L1700.8,3118.5 L1701.5,3116.6 L1702.1,3114.7 L1702.8,3112.9 L1703.5,3111 L1704.1,3109.1 L1704.8,3107.2 L1705.4,3105.3 L1706.1,3103.4 L1706.8,3101.5 L1707.4,3099.6 L1708.1,3097.7 L1708.8,3095.9 L1709.4,3094 L1710.1,3092.1 L1710.7,3090.2 L1711.4,3088.3 L1712.1,3086.4 L1712.7,3084.5 L1713.4,3082.6 L1714,3080.8 L1714.7,3078.9 L1715.4,3077 L1716,3075.1 L1716.7,3073.2 L1717.3,3071.3 L1718,3069.4 L1718.7,3067.5 L1719.3,3065.6 L1720,3063.8 L1720.7,3061.9 L1721.3,3060 L1722,3058.1 L1722.6,3056.2 L1723.3,3054.3 L1724,3052.4 L1724.6,3050.5 L1725.3,3048.6 L1725.9,3046.8 L1726.6,3044.9 L1727.2,3043 L1727.9,3041.1 L1728.6,3039.2 L1729.2,3037.3 L1729.9,3035.4 L1730.5,3033.5 L1731.2,3031.6 L1731.8,3029.7 L1732.5,3027.9 L1733.1,3026 L1733.8,3024.1 L1734.5,3022.2 L1735.1,3020.3 L1735.8,3018.4 L1736.4,3016.5 L1737.1,3014.6 L1737.7,3012.7 L1738.4,3010.8 L1739.1,3009 L1739.7,3007.1 L1740.4,3005.2 L1741,3003.3 L1741.7,3001.4 L1742.4,2999.5 L1743,2997.6 L1743.7,2995.7 L1744.4,2993.9 L1745.1,2992 L1745.7,2990.1 L1746.4,2988.2 L1747.1,2986.3 L1747.8,2984.4 L1748.4,2982.6 L1749.1,2980.7 L1749.8,2978.8 L1750.5,2976.9 L1751.2,2975 L1751.9,2973.2 L1752.5,2971.3 L1753.2,2969.4 L1753.9,2967.5 L1754.6,2965.6 L1755.3,2963.8 L1756,2961.9 L1756.7,2960 L1757.4,2958.1 L1758.1,2956.3 L1758.8,2954.4 L1759.5,2952.5 L1760.2,2950.6 L1760.9,2948.8 L1761.6,2946.9 L1762.3,2945 L1763,2943.1 L1763.7,2941.3 L1764.4,2939.4 L1765.2,2937.5 L1765.9,2935.7 L1766.6,2933.8 L1767.3,2932 L1768.1,2930.1 L1768.8,2928.2 L1769.6,2926.4 L1770.3,2924.5 L1771.1,2922.7 L1771.8,2920.8 L1772.6,2919 L1773.4,2917.1 L1774.2,2915.3 L1774.9,2913.5 L1775.7,2911.6 L1776.5,2909.8 L1777.4,2908 L1778.2,2906.1 L1779,2904.3 L1779.9,2902.5 L1780.7,2900.7 L1781.6,2898.9 L1782.4,2897.1 L1783.3,2895.3 L1784.2,2893.5 L1785,2891.7 L1785.9,2889.9 L1786.8,2888.1 L1787.7,2886.3 L1788.6,2884.5 L1789.4,2882.7 L1790.3,2880.9 L1791.2,2879.1 L1792.1,2877.3 L1792.9,2875.5 L1793.8,2873.7 L1794.7,2871.9 L1795.6,2870.1 L1796.5,2868.4 L1797.5,2866.6 L1798.4,2864.8 L1799.4,2863.1 L1800.4,2861.4 L1801.4,2859.6 L1802.5,2857.9 L1803.5,2856.2 L1804.6,2854.6 L1805.8,2852.9 L1806.9,2851.3 L1808.1,2849.7 L1809.3,2848.1 L1810.5,2846.5 L1811.7,2844.9 L1813,2843.4 L1814.3,2841.8 L1815.6,2840.3 L1816.9,2838.9 L1818.3,2837.5 L1819.8,2836.1 L1821.2,2834.7 L1822.7,2833.4 L1824.3,2832.2 L1825.9,2831 L1827.5,2829.8 L1829.1,2828.7 L1830.8,2827.6 L1832.5,2826.6 L1834.3,2825.7 L1836.1,2824.8 L1837.9,2824 L1839.7,2823.3 L1841.6,2822.6 L1843.5,2821.9 L1845.4,2821.4 L1847.3,2820.9 L1849.2,2820.5 L1851.2,2820.2 L1853.2,2819.9 L1855.1,2819.8 L1857.1,2819.7 L1859.1,2819.7 L1861.1,2819.8 L1863,2819.9 L1865,2820.2 L1867,2820.5 L1868.9,2820.9 L1870.8,2821.4 L1872.7,2821.9 L1874.6,2822.5 L1876.5,2823.2 L1878.3,2823.9 L1880.2,2824.7 L1882,2825.6 L1883.7,2826.5 L1885.5,2827.4 L1887.2,2828.4 L1888.9,2829.5 L1890.6,2830.5 L1892.3,2831.7 L1893.9,2832.8 L1895.5,2834 L1897.1,2835.2 L1898.7,2836.4 L1900.2,2837.7 L1901.8,2838.9 L1903.3,2840.2 L1904.8,2841.5 L1906.3,2842.8 L1907.8,2844.2 L1909.3,2845.5 L1910.8,2846.8 L1912.3,2848.1 L1913.8,2849.5 L1915.3,2850.8 L1916.8,2852.1 L1918.3,2853.4 L1919.8,2854.7 L1921.3,2856.1 L1922.8,2857.4 L1924.3,2858.8 L1925.7,2860.1 L1927.2,2861.5 L1928.6,2862.9 L1930,2864.3 L1931.5,2865.7 L1932.9,2867.1 L1934.3,2868.5 L1935.7,2870 L1937.1,2871.4 L1938.5,2872.8 L1939.9,2874.2 L1941.3,2875.7 L1942.7,2877.1 L1944.1,2878.5 L1945.6,2879.9 L1947,2881.3 L1948.4,2882.7 L1949.9,2884.1 L1951.3,2885.5 L1952.8,2886.8 L1954.2,2888.2 L1955.7,2889.5 L1957.2,2890.9 L1958.7,2892.2 L1960.3,2893.4 L1961.8,2894.7 L1963.4,2895.9 L1965,2897.1 L1966.6,2898.3 L1968.3,2899.4 L1969.9,2900.5 L1971.6,2901.6 L1973.3,2902.6 L1975,2903.6 L1976.8,2904.6 L1978.6,2905.5 L1980.4,2906.4 L1982.2,2907.2 L1984,2908 L1985.8,2908.8 L1987.7,2909.6 L1989.5,2910.3 L1991.4,2911 L1993.3,2911.7 L1995.1,2912.4 L1997,2913.1 L1998.9,2913.7 L2000.8,2914.3 L2002.7,2914.9 L2004.7,2915.4 L2006.6,2915.9 L2008.5,2916.4 L2010.5,2916.8 L2012.4,2917.2 L2014.4,2917.5 L2016.4,2917.7 L2018.4,2918 L2020.4,2918.1 L2022.4,2918.2 L2024.3,2918.3 L2026.3,2918.4 L2028.3,2918.4 L2030.3,2918.3 L2032.3,2918.2 L2034.3,2918.1 L2036.3,2917.9 L2038.3,2917.7 L2040.3,2917.4 L2042.2,2917.1 L2044.2,2916.8 L2046.2,2916.4 L2048.1,2916 L2050,2915.5 L2052,2915 L2053.9,2914.4 L2055.8,2913.8 L2057.7,2913.2 L2059.6,2912.5 L2061.4,2911.8 L2063.3,2911.1 L2065.1,2910.4 L2067,2909.6 L2068.8,2908.8 L2070.6,2907.9 L2072.4,2907.1 L2074.3,2906.2 L2076,2905.3 L2077.8,2904.5 L2079.6,2903.6 L2081.4,2902.7 L2083.2,2901.8 L2085,2900.9 L2086.8,2900 L2088.6,2899.1 L2090.4,2898.3 L2092.2,2897.4 L2094,2896.6 L2095.8,2895.8 L2097.7,2895 L2099.5,2894.2 L2101.4,2893.4 L2103.2,2892.6 L2105.1,2891.9 L2106.9,2891.2 L2108.8,2890.5 L2110.7,2889.8 L2112.6,2889.1 L2114.5,2888.5 L2116.4,2887.9 L2118.3,2887.3 L2120.2,2886.7 L2122.1,2886.2 L2124,2885.6 L2126,2885.2 L2127.9,2884.7 L2129.9,2884.3 L2131.8,2883.9 L2133.8,2883.6 L2135.8,2883.3 L2137.8,2883.1 L2139.7,2882.9 L2141.7,2882.8 L2143.7,2882.7 L2145.7,2882.7 L2147.7,2882.8 L2149.7,2882.9 L2151.6,2883.1 L2153.6,2883.4 L2155.6,2883.7 L2157.6,2884 L2159.5,2884.4 L2161.5,2884.8 L2163.4,2885.3 L2165.4,2885.8 L2167.3,2886.3 L2169.2,2886.8 L2171.1,2887.3 L2173.1,2887.9 L2175,2888.4" fill="none" stroke="#dc0a12" stroke-width="11" stroke-linecap="round" stroke-linejoin="round"/>
<line x1="1526.2" y1="3686.6" x2="1845.1" y2="2681" stroke="#18b068" stroke-width="6.5" stroke-linecap="butt"/>
</svg>
</body></html>
